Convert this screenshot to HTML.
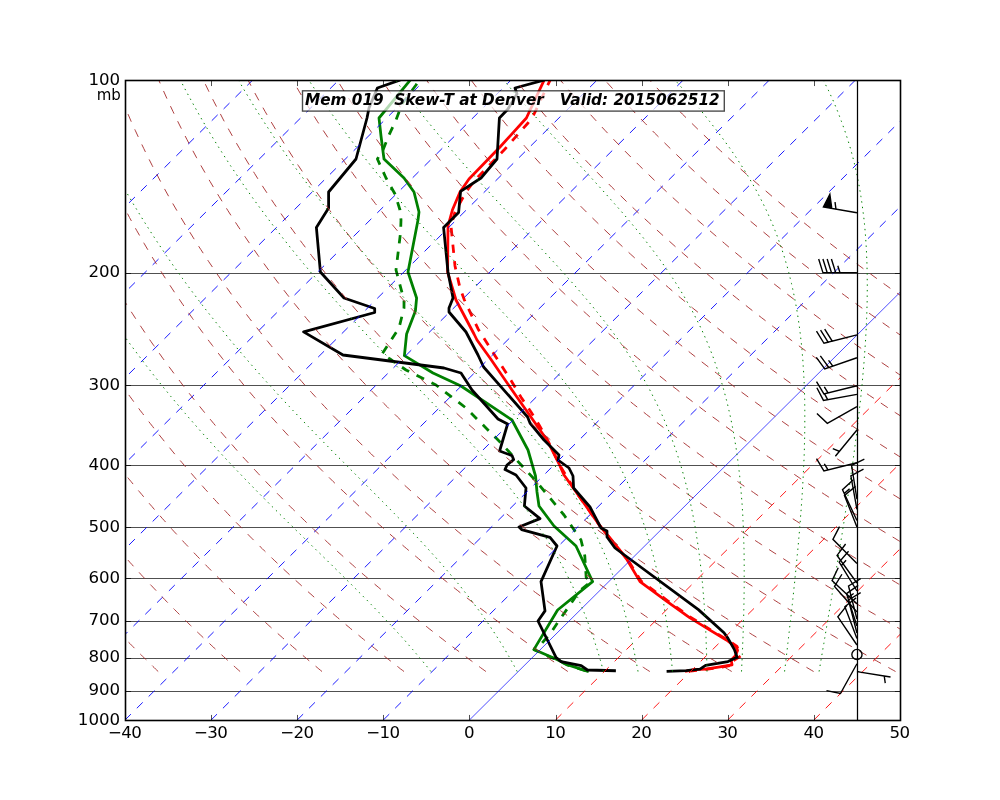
<!DOCTYPE html>
<html lang="en"><head><meta charset="utf-8"><title>Mem 019 Skew-T at Denver</title>
<style>html,body{margin:0;padding:0;background:#fff}body{width:1000px;height:800px;overflow:hidden}svg{display:block}</style>
</head><body>
<svg width="1000" height="800" viewBox="0 0 1000 800">
<rect width="1000" height="800" fill="#fff"/>
<defs><clipPath id="ax"><rect x="125.0" y="80.0" width="775.5" height="640.5"/></clipPath></defs>
<g clip-path="url(#ax)" fill="none">
<path d="M544.0 80.4L526.4 118.0L500.0 147.0L469.0 179.0L460.0 192.0L452.4 210.0L448.0 226.0L447.6 272.0L456.0 300.0L474.0 334.0L477.0 340.0L490.0 358.0L512.0 390.0L547.0 440.0L560.0 466.0L564.0 475.0L574.0 489.0L600.0 526.0L618.0 548.0L627.2 560.0L640.0 581.6L667.2 601.6L689.6 617.6L710.4 630.4L726.4 640.0L736.0 647.2L737.6 650.4L735.2 656.0L731.2 660.0L732.0 664.8L720.0 666.9L705.6 669.1L694.4 669.6L686.4 671.2" stroke="#ff0000" stroke-width="2.78" stroke-linejoin="round" stroke-linecap="square"/>
<path d="M410.0 80.4L379.0 118.0L381.0 136.0L384.0 159.0L404.0 178.0L414.0 192.0L419.0 212.0L418.0 220.0L408.0 272.0L416.6 298.0L415.4 311.0L406.6 334.0L404.4 355.6L433.0 373.0L461.0 386.0L512.0 420.0L528.0 450.0L535.5 476.0L537.0 492.0L539.0 506.0L554.0 526.0L576.0 546.0L592.6 581.6L557.6 610.0L534.0 649.4L555.9 659.0L567.2 664.6L587.4 671.2" stroke="#008000" stroke-width="2.78" stroke-linejoin="round" stroke-linecap="square"/>
<path d="M550.0 80.4L533.6 115.0L528.0 123.0L505.0 149.0L475.0 180.0L466.0 192.0L455.0 212.0L451.0 226.0L455.0 266.0L460.0 288.0L464.4 300.0L478.2 329.2L495.2 356.0L511.5 381.2L521.2 397.5L531.0 412.0L539.1 425.0L547.5 440.0L560.0 465.5L574.0 489.0L600.0 526.0L618.0 548.0L628.0 560.0L641.0 581.0L668.0 601.0L690.0 617.0L711.0 630.0L727.0 639.5L737.0 646.5L740.8 656.0L733.0 661.0L733.5 665.0L720.0 667.5L705.0 669.5L690.0 671.0" stroke="#ff0000" stroke-width="2.78" stroke-linejoin="round" stroke-linecap="butt" stroke-dasharray="8.33 8.33" stroke-dashoffset="3.00"/>
<path d="M419.0 80.4L416.0 85.0L402.0 104.0L396.0 120.0L389.0 135.0L383.0 150.0L377.4 159.0L386.0 178.0L395.0 194.0L400.0 210.0L401.0 220.0L400.6 232.0L396.0 270.0L404.0 300.0L404.0 308.0L399.0 328.0L382.0 354.0L390.0 359.0L406.0 370.0L436.0 385.0L466.0 408.0L500.0 442.0L536.0 481.0L564.0 515.0L581.0 540.0L584.8 555.8L586.2 577.6L591.0 581.6L579.5 590.8L570.8 603.9L560.2 618.8L551.5 631.9L537.5 648.5L534.0 649.8L555.9 659.4L567.2 665.0L587.4 671.4" stroke="#008000" stroke-width="2.78" stroke-linejoin="round" stroke-linecap="butt" stroke-dasharray="8.33 8.33" stroke-dashoffset="12.67"/>
<path d="M543.0 80.4L515.0 88.0L517.0 94.0L508.0 109.0L499.4 118.0L497.0 159.0L481.0 178.0L460.6 191.4L458.6 212.4L443.6 227.6L448.0 272.0L453.0 298.0L449.0 308.0L449.0 312.0L466.0 332.0L478.0 355.0L483.6 367.0L527.6 417.0L530.0 423.0L544.0 440.0L559.0 455.0L558.0 460.0L569.0 468.0L573.0 476.0L573.6 488.0L590.0 507.0L601.0 528.0L607.0 531.0L607.0 537.0L615.0 548.0L631.2 560.0L698.4 609.6L724.0 632.8L728.0 638.4L734.4 649.6L737.1 657.3L728.0 661.6L705.6 665.3L700.0 669.1L686.4 670.7L668.0 671.4" stroke="#000" stroke-width="2.78" stroke-linejoin="round" stroke-linecap="square"/>
<path d="M399.0 80.4L377.4 88.0L369.0 108.0L367.0 118.0L356.0 159.0L328.6 192.0L328.6 208.0L316.4 227.6L320.4 272.0L344.0 298.0L374.7 308.5L374.7 312.5L303.6 331.9L343.0 355.0L444.0 368.0L461.0 373.0L472.0 390.0L498.0 419.0L507.6 424.0L499.6 451.0L512.0 455.6L513.6 459.6L507.0 465.0L505.0 469.6L516.0 475.0L526.0 488.0L524.4 506.0L540.0 518.6L519.0 527.0L521.6 529.6L550.0 537.4L557.0 546.0L541.0 581.6L545.0 610.9L538.0 621.0L555.9 657.2L561.1 661.6L581.2 665.6L587.4 670.0L614.5 670.7" stroke="#000" stroke-width="2.78" stroke-linejoin="round" stroke-linecap="square"/>
<path d="M125.0 720.50L901.0 720.50" stroke="#000" stroke-width="0.69"/>
<path d="M125.0 691.50L901.0 691.50" stroke="#000" stroke-width="0.69"/>
<path d="M125.0 658.50L901.0 658.50" stroke="#000" stroke-width="0.69"/>
<path d="M125.0 621.50L901.0 621.50" stroke="#000" stroke-width="0.69"/>
<path d="M125.0 578.50L901.0 578.50" stroke="#000" stroke-width="0.69"/>
<path d="M125.0 527.50L901.0 527.50" stroke="#000" stroke-width="0.69"/>
<path d="M125.0 465.50L901.0 465.50" stroke="#000" stroke-width="0.69"/>
<path d="M125.0 385.50L901.0 385.50" stroke="#000" stroke-width="0.69"/>
<path d="M125.0 273.50L901.0 273.50" stroke="#000" stroke-width="0.69"/>
<path d="M125.0 80.50L901.0 80.50" stroke="#000" stroke-width="0.69"/>
<path d="M-1.00 332.00L252.74 80.00" stroke="#0000ff" stroke-width="0.90" stroke-dasharray="8.33 8.33"/>
<path d="M-1.00 417.53L338.85 80.00" stroke="#0000ff" stroke-width="0.90" stroke-dasharray="8.33 8.33"/>
<path d="M-1.00 503.05L424.96 80.00" stroke="#0000ff" stroke-width="0.90" stroke-dasharray="8.33 8.33"/>
<path d="M-1.00 588.57L511.07 80.00" stroke="#0000ff" stroke-width="0.90" stroke-dasharray="8.33 8.33"/>
<path d="M-1.00 674.09L597.18 80.00" stroke="#0000ff" stroke-width="0.90" stroke-dasharray="8.33 8.33"/>
<path d="M38.89 720.00L683.29 80.00" stroke="#0000ff" stroke-width="0.90" stroke-dasharray="8.33 8.33"/>
<path d="M125.00 720.00L769.40 80.00" stroke="#0000ff" stroke-width="0.90" stroke-dasharray="8.33 8.33"/>
<path d="M211.11 720.00L855.52 80.00" stroke="#0000ff" stroke-width="0.90" stroke-dasharray="8.33 8.33"/>
<path d="M297.22 720.00L941.63 80.00" stroke="#0000ff" stroke-width="0.90" stroke-dasharray="8.33 8.33"/>
<path d="M383.33 720.00L1027.74 80.00" stroke="#0000ff" stroke-width="0.90" stroke-dasharray="8.33 8.33"/>
<path d="M469.44 720.00L1113.85 80.00" stroke="#0000ff" stroke-width="0.70"/>
<path d="M555.56 720.00L1199.96 80.00" stroke="#ff0000" stroke-width="0.90" stroke-dasharray="8.33 8.33"/>
<path d="M641.67 720.00L1286.07 80.00" stroke="#ff0000" stroke-width="0.90" stroke-dasharray="8.33 8.33"/>
<path d="M727.78 720.00L1372.18 80.00" stroke="#ff0000" stroke-width="0.90" stroke-dasharray="8.33 8.33"/>
<path d="M813.89 720.00L1458.29 80.00" stroke="#ff0000" stroke-width="0.90" stroke-dasharray="8.33 8.33"/>
<path d="M158.2 671.5L156.8 670.2L155.4 668.9L154.1 667.5L152.7 666.2L151.3 664.8L149.9 663.5L148.5 662.1L147.1 660.7L145.7 659.4L144.3 658.0L142.9 656.6L141.5 655.2L140.0 653.8L138.6 652.4L137.2 650.9L135.8 649.5L134.4 648.1L132.9 646.6L131.5 645.2L130.1 643.7L128.6 642.3L127.2 640.8L125.7 639.3L124.3 637.8L122.8 636.3L121.4 634.8L119.9 633.3L118.5 631.8L117.0 630.2L115.5 628.7L114.1 627.1L112.6 625.6L111.1 624.0L109.6 622.4L108.1 620.9L106.7 619.3L105.2 617.7L103.7 616.1L102.2 614.4L100.7 612.8L99.2 611.2L97.6 609.5L96.1 607.9L94.6 606.2L93.1 604.5L91.6 602.8L90.0 601.1L88.5 599.4L87.0 597.7L85.4 596.0L83.9 594.2L82.3 592.5L80.8 590.7L79.2 588.9L77.7 587.1L76.1 585.3L74.6 583.5L73.0 581.7L71.4 579.9L69.8 578.0L68.2 576.2L66.7 574.3L65.1 572.4L63.5 570.5L61.9 568.6L60.3 566.7L58.7 564.7L57.1 562.8L55.4 560.8L53.8 558.8L52.2 556.8L50.6 554.8L48.9 552.8L47.3 550.8L45.7 548.7L44.0 546.7L42.4 544.6L40.7 542.5L39.1 540.4L37.4 538.2L35.7 536.1L34.1 533.9L32.4 531.8L30.7 529.6L29.0 527.3L27.3 525.1L25.7 522.9L24.0 520.6L22.3 518.3L20.6 516.0L18.8 513.7L17.1 511.3L15.4 509.0L13.7 506.6L11.9 504.2L10.2 501.7L8.5 499.3L6.7 496.8L5.0 494.3L3.2 491.8L1.5 489.3L-0.3 486.7L-2.1 484.1L-3.8 481.5L-5.6 478.9L-7.4 476.2L-9.2 473.5L-11.0 470.8L-12.8 468.1L-14.6 465.3L-16.4 462.5L-18.2 459.7L-20.0 456.9L-21.8 454.0L-23.7 451.1L-25.5 448.1L-27.3 445.1L-29.2 442.1L-31.0 439.1L-32.9 436.0L-34.7 432.9L-36.6 429.8L-38.4 426.6L-40.3 423.4L-42.2 420.1L-44.1 416.9L-46.0 413.5L-47.8 410.2L-49.7 406.7L-51.6 403.3L-53.5 399.8L-55.4 396.3L-57.4 392.7L-59.3 389.0L-61.2 385.4L-63.1 381.6L-65.0 377.8L-67.0 374.0L-68.9 370.1L-70.8 366.2L-72.8 362.2L-74.7 358.1L-76.7 354.0L-78.6 349.8L-80.6 345.6L-82.6 341.3L-84.5 336.9L-86.5 332.4L-88.4 327.9L-90.4 323.3L-92.4 318.7L-94.3 313.9L-96.3 309.1L-98.3 304.2L-100.2 299.2L-102.2 294.1L-104.2 288.9L-106.1 283.6L-108.1 278.2L-110.1 272.7L-112.0 267.0L-114.0 261.3L-115.9 255.5L-117.8 249.5L-119.8 243.4L-121.7 237.1L-123.6 230.7L-125.5 224.2L-127.4 217.5L-129.2 210.6L-131.1 203.6L-132.9 196.4L-134.7 189.0L-136.5 181.4L-138.3 173.5L-140.0 165.5L-141.7 157.2L-143.4 148.6L-145.0 139.8L-146.6 130.7L-148.1 121.3L-149.6 111.5L-151.0 101.4L-152.3 90.9L-153.5 80.0L-153.5 80.0" stroke="#a52a2a" stroke-width="0.90" stroke-dasharray="8.33 8.33"/>
<path d="M240.1 671.5L238.6 670.2L237.1 668.9L235.6 667.5L234.1 666.2L232.6 664.8L231.1 663.5L229.6 662.1L228.1 660.7L226.6 659.4L225.1 658.0L223.6 656.6L222.0 655.2L220.5 653.8L219.0 652.4L217.4 650.9L215.9 649.5L214.3 648.1L212.8 646.6L211.2 645.2L209.7 643.7L208.1 642.3L206.6 640.8L205.0 639.3L203.4 637.8L201.9 636.3L200.3 634.8L198.7 633.3L197.1 631.8L195.5 630.2L193.9 628.7L192.3 627.1L190.7 625.6L189.1 624.0L187.5 622.4L185.9 620.9L184.3 619.3L182.7 617.7L181.1 616.1L179.4 614.4L177.8 612.8L176.2 611.2L174.5 609.5L172.9 607.9L171.2 606.2L169.6 604.5L167.9 602.8L166.2 601.1L164.6 599.4L162.9 597.7L161.2 596.0L159.6 594.2L157.9 592.5L156.2 590.7L154.5 588.9L152.8 587.1L151.1 585.3L149.4 583.5L147.7 581.7L146.0 579.9L144.3 578.0L142.5 576.2L140.8 574.3L139.1 572.4L137.3 570.5L135.6 568.6L133.8 566.7L132.1 564.7L130.3 562.8L128.6 560.8L126.8 558.8L125.0 556.8L123.3 554.8L121.5 552.8L119.7 550.8L117.9 548.7L116.1 546.7L114.3 544.6L112.5 542.5L110.7 540.4L108.9 538.2L107.0 536.1L105.2 533.9L103.4 531.8L101.5 529.6L99.7 527.3L97.8 525.1L96.0 522.9L94.1 520.6L92.2 518.3L90.4 516.0L88.5 513.7L86.6 511.3L84.7 509.0L82.8 506.6L80.9 504.2L79.0 501.7L77.1 499.3L75.2 496.8L73.3 494.3L71.3 491.8L69.4 489.3L67.5 486.7L65.5 484.1L63.6 481.5L61.6 478.9L59.6 476.2L57.7 473.5L55.7 470.8L53.7 468.1L51.7 465.3L49.7 462.5L47.7 459.7L45.7 456.9L43.7 454.0L41.7 451.1L39.6 448.1L37.6 445.1L35.6 442.1L33.5 439.1L31.5 436.0L29.4 432.9L27.3 429.8L25.3 426.6L23.2 423.4L21.1 420.1L19.0 416.9L16.9 413.5L14.8 410.2L12.7 406.7L10.6 403.3L8.4 399.8L6.3 396.3L4.2 392.7L2.0 389.0L-0.1 385.4L-2.3 381.6L-4.5 377.8L-6.6 374.0L-8.8 370.1L-11.0 366.2L-13.2 362.2L-15.4 358.1L-17.6 354.0L-19.8 349.8L-22.0 345.6L-24.2 341.3L-26.4 336.9L-28.7 332.4L-30.9 327.9L-33.1 323.3L-35.4 318.7L-37.6 313.9L-39.9 309.1L-42.1 304.2L-44.4 299.2L-46.6 294.1L-48.9 288.9L-51.1 283.6L-53.4 278.2L-55.7 272.7L-57.9 267.0L-60.2 261.3L-62.5 255.5L-64.7 249.5L-67.0 243.4L-69.3 237.1L-71.5 230.7L-73.8 224.2L-76.0 217.5L-78.2 210.6L-80.4 203.6L-82.7 196.4L-84.8 189.0L-87.0 181.4L-89.2 173.5L-91.3 165.5L-93.4 157.2L-95.5 148.6L-97.6 139.8L-99.6 130.7L-101.6 121.3L-103.5 111.5L-105.4 101.4L-107.2 90.9L-108.9 80.0L-108.9 80.0" stroke="#a52a2a" stroke-width="0.90" stroke-dasharray="8.33 8.33"/>
<path d="M322.0 671.5L320.4 670.2L318.8 668.9L317.2 667.5L315.6 666.2L314.0 664.8L312.4 663.5L310.8 662.1L309.1 660.7L307.5 659.4L305.9 658.0L304.2 656.6L302.6 655.2L300.9 653.8L299.3 652.4L297.6 650.9L296.0 649.5L294.3 648.1L292.6 646.6L291.0 645.2L289.3 643.7L287.6 642.3L285.9 640.8L284.3 639.3L282.6 637.8L280.9 636.3L279.2 634.8L277.5 633.3L275.8 631.8L274.0 630.2L272.3 628.7L270.6 627.1L268.9 625.6L267.2 624.0L265.4 622.4L263.7 620.9L261.9 619.3L260.2 617.7L258.4 616.1L256.7 614.4L254.9 612.8L253.2 611.2L251.4 609.5L249.6 607.9L247.8 606.2L246.0 604.5L244.3 602.8L242.5 601.1L240.7 599.4L238.9 597.7L237.0 596.0L235.2 594.2L233.4 592.5L231.6 590.7L229.8 588.9L227.9 587.1L226.1 585.3L224.2 583.5L222.4 581.7L220.5 579.9L218.7 578.0L216.8 576.2L214.9 574.3L213.1 572.4L211.2 570.5L209.3 568.6L207.4 566.7L205.5 564.7L203.6 562.8L201.7 560.8L199.8 558.8L197.8 556.8L195.9 554.8L194.0 552.8L192.0 550.8L190.1 548.7L188.2 546.7L186.2 544.6L184.2 542.5L182.3 540.4L180.3 538.2L178.3 536.1L176.3 533.9L174.3 531.8L172.3 529.6L170.3 527.3L168.3 525.1L166.3 522.9L164.3 520.6L162.2 518.3L160.2 516.0L158.2 513.7L156.1 511.3L154.0 509.0L152.0 506.6L149.9 504.2L147.8 501.7L145.8 499.3L143.7 496.8L141.6 494.3L139.5 491.8L137.3 489.3L135.2 486.7L133.1 484.1L131.0 481.5L128.8 478.9L126.7 476.2L124.5 473.5L122.3 470.8L120.2 468.1L118.0 465.3L115.8 462.5L113.6 459.7L111.4 456.9L109.2 454.0L107.0 451.1L104.8 448.1L102.5 445.1L100.3 442.1L98.0 439.1L95.8 436.0L93.5 432.9L91.2 429.8L89.0 426.6L86.7 423.4L84.4 420.1L82.1 416.9L79.7 413.5L77.4 410.2L75.1 406.7L72.7 403.3L70.4 399.8L68.0 396.3L65.7 392.7L63.3 389.0L60.9 385.4L58.5 381.6L56.1 377.8L53.7 374.0L51.3 370.1L48.9 366.2L46.4 362.2L44.0 358.1L41.6 354.0L39.1 349.8L36.6 345.6L34.1 341.3L31.7 336.9L29.2 332.4L26.7 327.9L24.2 323.3L21.7 318.7L19.1 313.9L16.6 309.1L14.1 304.2L11.5 299.2L9.0 294.1L6.4 288.9L3.8 283.6L1.3 278.2L-1.3 272.7L-3.9 267.0L-6.5 261.3L-9.0 255.5L-11.6 249.5L-14.2 243.4L-16.8 237.1L-19.4 230.7L-22.0 224.2L-24.6 217.5L-27.2 210.6L-29.8 203.6L-32.4 196.4L-34.9 189.0L-37.5 181.4L-40.1 173.5L-42.6 165.5L-45.1 157.2L-47.7 148.6L-50.1 139.8L-52.6 130.7L-55.0 121.3L-57.4 111.5L-59.8 101.4L-62.1 90.9L-64.3 80.0L-64.3 80.0" stroke="#a52a2a" stroke-width="0.90" stroke-dasharray="8.33 8.33"/>
<path d="M404.0 671.5L402.3 670.2L400.5 668.9L398.8 667.5L397.1 666.2L395.4 664.8L393.6 663.5L391.9 662.1L390.2 660.7L388.4 659.4L386.7 658.0L384.9 656.6L383.2 655.2L381.4 653.8L379.6 652.4L377.8 650.9L376.1 649.5L374.3 648.1L372.5 646.6L370.7 645.2L368.9 643.7L367.1 642.3L365.3 640.8L363.5 639.3L361.7 637.8L359.9 636.3L358.1 634.8L356.2 633.3L354.4 631.8L352.6 630.2L350.7 628.7L348.9 627.1L347.0 625.6L345.2 624.0L343.3 622.4L341.5 620.9L339.6 619.3L337.7 617.7L335.8 616.1L333.9 614.4L332.0 612.8L330.2 611.2L328.3 609.5L326.3 607.9L324.4 606.2L322.5 604.5L320.6 602.8L318.7 601.1L316.7 599.4L314.8 597.7L312.9 596.0L310.9 594.2L308.9 592.5L307.0 590.7L305.0 588.9L303.0 587.1L301.1 585.3L299.1 583.5L297.1 581.7L295.1 579.9L293.1 578.0L291.1 576.2L289.1 574.3L287.1 572.4L285.0 570.5L283.0 568.6L281.0 566.7L278.9 564.7L276.9 562.8L274.8 560.8L272.7 558.8L270.7 556.8L268.6 554.8L266.5 552.8L264.4 550.8L262.3 548.7L260.2 546.7L258.1 544.6L256.0 542.5L253.9 540.4L251.7 538.2L249.6 536.1L247.5 533.9L245.3 531.8L243.1 529.6L241.0 527.3L238.8 525.1L236.6 522.9L234.4 520.6L232.2 518.3L230.0 516.0L227.8 513.7L225.6 511.3L223.4 509.0L221.1 506.6L218.9 504.2L216.6 501.7L214.4 499.3L212.1 496.8L209.8 494.3L207.6 491.8L205.3 489.3L203.0 486.7L200.7 484.1L198.4 481.5L196.0 478.9L193.7 476.2L191.4 473.5L189.0 470.8L186.6 468.1L184.3 465.3L181.9 462.5L179.5 459.7L177.1 456.9L174.7 454.0L172.3 451.1L169.9 448.1L167.4 445.1L165.0 442.1L162.6 439.1L160.1 436.0L157.6 432.9L155.1 429.8L152.7 426.6L150.2 423.4L147.6 420.1L145.1 416.9L142.6 413.5L140.0 410.2L137.5 406.7L134.9 403.3L132.4 399.8L129.8 396.3L127.2 392.7L124.6 389.0L122.0 385.4L119.3 381.6L116.7 377.8L114.1 374.0L111.4 370.1L108.7 366.2L106.1 362.2L103.4 358.1L100.7 354.0L98.0 349.8L95.2 345.6L92.5 341.3L89.8 336.9L87.0 332.4L84.2 327.9L81.5 323.3L78.7 318.7L75.9 313.9L73.0 309.1L70.2 304.2L67.4 299.2L64.6 294.1L61.7 288.9L58.8 283.6L56.0 278.2L53.1 272.7L50.2 267.0L47.3 261.3L44.4 255.5L41.5 249.5L38.5 243.4L35.6 237.1L32.7 230.7L29.7 224.2L26.8 217.5L23.8 210.6L20.9 203.6L17.9 196.4L14.9 189.0L12.0 181.4L9.0 173.5L6.1 165.5L3.1 157.2L0.2 148.6L-2.7 139.8L-5.6 130.7L-8.5 121.3L-11.3 111.5L-14.2 101.4L-17.0 90.9L-19.7 80.0L-19.7 80.0" stroke="#a52a2a" stroke-width="0.90" stroke-dasharray="8.33 8.33"/>
<path d="M485.9 671.5L484.1 670.2L482.3 668.9L480.4 667.5L478.6 666.2L476.7 664.8L474.9 663.5L473.0 662.1L471.2 660.7L469.3 659.4L467.5 658.0L465.6 656.6L463.7 655.2L461.8 653.8L459.9 652.4L458.1 650.9L456.2 649.5L454.3 648.1L452.4 646.6L450.5 645.2L448.5 643.7L446.6 642.3L444.7 640.8L442.8 639.3L440.8 637.8L438.9 636.3L437.0 634.8L435.0 633.3L433.1 631.8L431.1 630.2L429.1 628.7L427.2 627.1L425.2 625.6L423.2 624.0L421.2 622.4L419.2 620.9L417.2 619.3L415.2 617.7L413.2 616.1L411.2 614.4L409.2 612.8L407.2 611.2L405.1 609.5L403.1 607.9L401.0 606.2L399.0 604.5L396.9 602.8L394.9 601.1L392.8 599.4L390.7 597.7L388.7 596.0L386.6 594.2L384.5 592.5L382.4 590.7L380.3 588.9L378.2 587.1L376.0 585.3L373.9 583.5L371.8 581.7L369.7 579.9L367.5 578.0L365.4 576.2L363.2 574.3L361.0 572.4L358.9 570.5L356.7 568.6L354.5 566.7L352.3 564.7L350.1 562.8L347.9 560.8L345.7 558.8L343.5 556.8L341.3 554.8L339.0 552.8L336.8 550.8L334.5 548.7L332.3 546.7L330.0 544.6L327.7 542.5L325.5 540.4L323.2 538.2L320.9 536.1L318.6 533.9L316.3 531.8L313.9 529.6L311.6 527.3L309.3 525.1L306.9 522.9L304.6 520.6L302.2 518.3L299.9 516.0L297.5 513.7L295.1 511.3L292.7 509.0L290.3 506.6L287.9 504.2L285.5 501.7L283.0 499.3L280.6 496.8L278.1 494.3L275.7 491.8L273.2 489.3L270.7 486.7L268.2 484.1L265.7 481.5L263.2 478.9L260.7 476.2L258.2 473.5L255.7 470.8L253.1 468.1L250.6 465.3L248.0 462.5L245.4 459.7L242.8 456.9L240.2 454.0L237.6 451.1L235.0 448.1L232.4 445.1L229.7 442.1L227.1 439.1L224.4 436.0L221.7 432.9L219.0 429.8L216.3 426.6L213.6 423.4L210.9 420.1L208.2 416.9L205.4 413.5L202.7 410.2L199.9 406.7L197.1 403.3L194.3 399.8L191.5 396.3L188.7 392.7L185.9 389.0L183.0 385.4L180.2 381.6L177.3 377.8L174.4 374.0L171.5 370.1L168.6 366.2L165.7 362.2L162.7 358.1L159.8 354.0L156.8 349.8L153.8 345.6L150.8 341.3L147.8 336.9L144.8 332.4L141.8 327.9L138.7 323.3L135.7 318.7L132.6 313.9L129.5 309.1L126.4 304.2L123.3 299.2L120.1 294.1L117.0 288.9L113.8 283.6L110.6 278.2L107.5 272.7L104.3 267.0L101.0 261.3L97.8 255.5L94.6 249.5L91.3 243.4L88.0 237.1L84.7 230.7L81.5 224.2L78.2 217.5L74.8 210.6L71.5 203.6L68.2 196.4L64.8 189.0L61.5 181.4L58.1 173.5L54.8 165.5L51.4 157.2L48.1 148.6L44.7 139.8L41.4 130.7L38.1 121.3L34.7 111.5L31.4 101.4L28.2 90.9L24.9 80.0L24.9 80.0" stroke="#a52a2a" stroke-width="0.90" stroke-dasharray="8.33 8.33"/>
<path d="M567.8 671.5L565.9 670.2L564.0 668.9L562.0 667.5L560.1 666.2L558.1 664.8L556.1 663.5L554.2 662.1L552.2 660.7L550.2 659.4L548.3 658.0L546.3 656.6L544.3 655.2L542.3 653.8L540.3 652.4L538.3 650.9L536.3 649.5L534.2 648.1L532.2 646.6L530.2 645.2L528.2 643.7L526.1 642.3L524.1 640.8L522.0 639.3L520.0 637.8L517.9 636.3L515.8 634.8L513.8 633.3L511.7 631.8L509.6 630.2L507.5 628.7L505.4 627.1L503.3 625.6L501.2 624.0L499.1 622.4L497.0 620.9L494.9 619.3L492.7 617.7L490.6 616.1L488.5 614.4L486.3 612.8L484.2 611.2L482.0 609.5L479.8 607.9L477.6 606.2L475.5 604.5L473.3 602.8L471.1 601.1L468.9 599.4L466.7 597.7L464.5 596.0L462.2 594.2L460.0 592.5L457.8 590.7L455.5 588.9L453.3 587.1L451.0 585.3L448.8 583.5L446.5 581.7L444.2 579.9L441.9 578.0L439.6 576.2L437.3 574.3L435.0 572.4L432.7 570.5L430.4 568.6L428.1 566.7L425.7 564.7L423.4 562.8L421.0 560.8L418.7 558.8L416.3 556.8L413.9 554.8L411.5 552.8L409.2 550.8L406.7 548.7L404.3 546.7L401.9 544.6L399.5 542.5L397.1 540.4L394.6 538.2L392.2 536.1L389.7 533.9L387.2 531.8L384.8 529.6L382.3 527.3L379.8 525.1L377.3 522.9L374.7 520.6L372.2 518.3L369.7 516.0L367.1 513.7L364.6 511.3L362.0 509.0L359.4 506.6L356.9 504.2L354.3 501.7L351.7 499.3L349.0 496.8L346.4 494.3L343.8 491.8L341.1 489.3L338.5 486.7L335.8 484.1L333.1 481.5L330.5 478.9L327.8 476.2L325.0 473.5L322.3 470.8L319.6 468.1L316.8 465.3L314.1 462.5L311.3 459.7L308.5 456.9L305.7 454.0L302.9 451.1L300.1 448.1L297.3 445.1L294.5 442.1L291.6 439.1L288.7 436.0L285.8 432.9L283.0 429.8L280.0 426.6L277.1 423.4L274.2 420.1L271.2 416.9L268.3 413.5L265.3 410.2L262.3 406.7L259.3 403.3L256.3 399.8L253.3 396.3L250.2 392.7L247.2 389.0L244.1 385.4L241.0 381.6L237.9 377.8L234.8 374.0L231.6 370.1L228.5 366.2L225.3 362.2L222.1 358.1L218.9 354.0L215.7 349.8L212.5 345.6L209.2 341.3L205.9 336.9L202.6 332.4L199.3 327.9L196.0 323.3L192.7 318.7L189.3 313.9L186.0 309.1L182.6 304.2L179.2 299.2L175.7 294.1L172.3 288.9L168.8 283.6L165.3 278.2L161.8 272.7L158.3 267.0L154.8 261.3L151.2 255.5L147.7 249.5L144.1 243.4L140.5 237.1L136.8 230.7L133.2 224.2L129.5 217.5L125.9 210.6L122.2 203.6L118.5 196.4L114.7 189.0L111.0 181.4L107.3 173.5L103.5 165.5L99.7 157.2L96.0 148.6L92.2 139.8L88.4 130.7L84.6 121.3L80.8 111.5L77.0 101.4L73.3 90.9L69.5 80.0L69.5 80.0" stroke="#a52a2a" stroke-width="0.90" stroke-dasharray="8.33 8.33"/>
<path d="M649.8 671.5L647.7 670.2L645.7 668.9L643.6 667.5L641.5 666.2L639.5 664.8L637.4 663.5L635.3 662.1L633.2 660.7L631.1 659.4L629.0 658.0L626.9 656.6L624.8 655.2L622.7 653.8L620.6 652.4L618.5 650.9L616.4 649.5L614.2 648.1L612.1 646.6L609.9 645.2L607.8 643.7L605.6 642.3L603.5 640.8L601.3 639.3L599.1 637.8L596.9 636.3L594.7 634.8L592.5 633.3L590.3 631.8L588.1 630.2L585.9 628.7L583.7 627.1L581.5 625.6L579.2 624.0L577.0 622.4L574.8 620.9L572.5 619.3L570.3 617.7L568.0 616.1L565.7 614.4L563.4 612.8L561.2 611.2L558.9 609.5L556.6 607.9L554.3 606.2L551.9 604.5L549.6 602.8L547.3 601.1L545.0 599.4L542.6 597.7L540.3 596.0L537.9 594.2L535.5 592.5L533.2 590.7L530.8 588.9L528.4 587.1L526.0 585.3L523.6 583.5L521.2 581.7L518.8 579.9L516.4 578.0L513.9 576.2L511.5 574.3L509.0 572.4L506.6 570.5L504.1 568.6L501.6 566.7L499.1 564.7L496.7 562.8L494.2 560.8L491.6 558.8L489.1 556.8L486.6 554.8L484.1 552.8L481.5 550.8L479.0 548.7L476.4 546.7L473.8 544.6L471.2 542.5L468.7 540.4L466.1 538.2L463.4 536.1L460.8 533.9L458.2 531.8L455.6 529.6L452.9 527.3L450.2 525.1L447.6 522.9L444.9 520.6L442.2 518.3L439.5 516.0L436.8 513.7L434.1 511.3L431.3 509.0L428.6 506.6L425.8 504.2L423.1 501.7L420.3 499.3L417.5 496.8L414.7 494.3L411.9 491.8L409.1 489.3L406.2 486.7L403.4 484.1L400.5 481.5L397.7 478.9L394.8 476.2L391.9 473.5L389.0 470.8L386.1 468.1L383.1 465.3L380.2 462.5L377.2 459.7L374.2 456.9L371.3 454.0L368.3 451.1L365.2 448.1L362.2 445.1L359.2 442.1L356.1 439.1L353.0 436.0L350.0 432.9L346.9 429.8L343.7 426.6L340.6 423.4L337.5 420.1L334.3 416.9L331.1 413.5L327.9 410.2L324.7 406.7L321.5 403.3L318.3 399.8L315.0 396.3L311.7 392.7L308.4 389.0L305.1 385.4L301.8 381.6L298.5 377.8L295.1 374.0L291.7 370.1L288.3 366.2L284.9 362.2L281.5 358.1L278.0 354.0L274.6 349.8L271.1 345.6L267.6 341.3L264.0 336.9L260.5 332.4L256.9 327.9L253.3 323.3L249.7 318.7L246.1 313.9L242.4 309.1L238.7 304.2L235.0 299.2L231.3 294.1L227.6 288.9L223.8 283.6L220.0 278.2L216.2 272.7L212.4 267.0L208.5 261.3L204.7 255.5L200.8 249.5L196.8 243.4L192.9 237.1L188.9 230.7L184.9 224.2L180.9 217.5L176.9 210.6L172.8 203.6L168.7 196.4L164.6 189.0L160.5 181.4L156.4 173.5L152.2 165.5L148.0 157.2L143.8 148.6L139.6 139.8L135.4 130.7L131.1 121.3L126.9 111.5L122.6 101.4L118.4 90.9L114.1 80.0L114.1 80.0" stroke="#a52a2a" stroke-width="0.90" stroke-dasharray="8.33 8.33"/>
<path d="M731.7 671.5L729.5 670.2L727.4 668.9L725.2 667.5L723.0 666.2L720.8 664.8L718.6 663.5L716.5 662.1L714.3 660.7L712.1 659.4L709.8 658.0L707.6 656.6L705.4 655.2L703.2 653.8L700.9 652.4L698.7 650.9L696.5 649.5L694.2 648.1L691.9 646.6L689.7 645.2L687.4 643.7L685.1 642.3L682.8 640.8L680.5 639.3L678.2 637.8L675.9 636.3L673.6 634.8L671.3 633.3L669.0 631.8L666.7 630.2L664.3 628.7L662.0 627.1L659.6 625.6L657.3 624.0L654.9 622.4L652.5 620.9L650.2 619.3L647.8 617.7L645.4 616.1L643.0 614.4L640.6 612.8L638.2 611.2L635.7 609.5L633.3 607.9L630.9 606.2L628.4 604.5L626.0 602.8L623.5 601.1L621.0 599.4L618.6 597.7L616.1 596.0L613.6 594.2L611.1 592.5L608.6 590.7L606.1 588.9L603.5 587.1L601.0 585.3L598.5 583.5L595.9 581.7L593.3 579.9L590.8 578.0L588.2 576.2L585.6 574.3L583.0 572.4L580.4 570.5L577.8 568.6L575.2 566.7L572.6 564.7L569.9 562.8L567.3 560.8L564.6 558.8L561.9 556.8L559.3 554.8L556.6 552.8L553.9 550.8L551.2 548.7L548.5 546.7L545.7 544.6L543.0 542.5L540.3 540.4L537.5 538.2L534.7 536.1L532.0 533.9L529.2 531.8L526.4 529.6L523.6 527.3L520.7 525.1L517.9 522.9L515.1 520.6L512.2 518.3L509.3 516.0L506.5 513.7L503.6 511.3L500.7 509.0L497.8 506.6L494.8 504.2L491.9 501.7L488.9 499.3L486.0 496.8L483.0 494.3L480.0 491.8L477.0 489.3L474.0 486.7L471.0 484.1L467.9 481.5L464.9 478.9L461.8 476.2L458.7 473.5L455.6 470.8L452.5 468.1L449.4 465.3L446.3 462.5L443.1 459.7L440.0 456.9L436.8 454.0L433.6 451.1L430.4 448.1L427.1 445.1L423.9 442.1L420.6 439.1L417.4 436.0L414.1 432.9L410.8 429.8L407.4 426.6L404.1 423.4L400.7 420.1L397.4 416.9L394.0 413.5L390.6 410.2L387.1 406.7L383.7 403.3L380.2 399.8L376.8 396.3L373.3 392.7L369.7 389.0L366.2 385.4L362.6 381.6L359.1 377.8L355.5 374.0L351.8 370.1L348.2 366.2L344.5 362.2L340.8 358.1L337.1 354.0L333.4 349.8L329.7 345.6L325.9 341.3L322.1 336.9L318.3 332.4L314.5 327.9L310.6 323.3L306.7 318.7L302.8 313.9L298.9 309.1L294.9 304.2L290.9 299.2L286.9 294.1L282.9 288.9L278.8 283.6L274.7 278.2L270.6 272.7L266.4 267.0L262.3 261.3L258.1 255.5L253.9 249.5L249.6 243.4L245.3 237.1L241.0 230.7L236.7 224.2L232.3 217.5L227.9 210.6L223.5 203.6L219.0 196.4L214.5 189.0L210.0 181.4L205.5 173.5L200.9 165.5L196.3 157.2L191.7 148.6L187.1 139.8L182.4 130.7L177.7 121.3L173.0 111.5L168.2 101.4L163.5 90.9L158.7 80.0L158.7 80.0" stroke="#a52a2a" stroke-width="0.90" stroke-dasharray="8.33 8.33"/>
<path d="M813.6 671.5L811.3 670.2L809.1 668.9L806.8 667.5L804.5 666.2L802.2 664.8L799.9 663.5L797.6 662.1L795.3 660.7L793.0 659.4L790.6 658.0L788.3 656.6L786.0 655.2L783.6 653.8L781.3 652.4L778.9 650.9L776.5 649.5L774.2 648.1L771.8 646.6L769.4 645.2L767.0 643.7L764.6 642.3L762.2 640.8L759.8 639.3L757.4 637.8L755.0 636.3L752.5 634.8L750.1 633.3L747.6 631.8L745.2 630.2L742.7 628.7L740.3 627.1L737.8 625.6L735.3 624.0L732.8 622.4L730.3 620.9L727.8 619.3L725.3 617.7L722.8 616.1L720.2 614.4L717.7 612.8L715.2 611.2L712.6 609.5L710.0 607.9L707.5 606.2L704.9 604.5L702.3 602.8L699.7 601.1L697.1 599.4L694.5 597.7L691.9 596.0L689.3 594.2L686.6 592.5L684.0 590.7L681.3 588.9L678.7 587.1L676.0 585.3L673.3 583.5L670.6 581.7L667.9 579.9L665.2 578.0L662.5 576.2L659.8 574.3L657.0 572.4L654.3 570.5L651.5 568.6L648.7 566.7L646.0 564.7L643.2 562.8L640.4 560.8L637.6 558.8L634.8 556.8L631.9 554.8L629.1 552.8L626.3 550.8L623.4 548.7L620.5 546.7L617.6 544.6L614.8 542.5L611.9 540.4L608.9 538.2L606.0 536.1L603.1 533.9L600.1 531.8L597.2 529.6L594.2 527.3L591.2 525.1L588.2 522.9L585.2 520.6L582.2 518.3L579.2 516.0L576.1 513.7L573.1 511.3L570.0 509.0L566.9 506.6L563.8 504.2L560.7 501.7L557.6 499.3L554.4 496.8L551.3 494.3L548.1 491.8L544.9 489.3L541.8 486.7L538.6 484.1L535.3 481.5L532.1 478.9L528.8 476.2L525.6 473.5L522.3 470.8L519.0 468.1L515.7 465.3L512.4 462.5L509.0 459.7L505.7 456.9L502.3 454.0L498.9 451.1L495.5 448.1L492.1 445.1L488.6 442.1L485.2 439.1L481.7 436.0L478.2 432.9L474.7 429.8L471.1 426.6L467.6 423.4L464.0 420.1L460.4 416.9L456.8 413.5L453.2 410.2L449.6 406.7L445.9 403.3L442.2 399.8L438.5 396.3L434.8 392.7L431.0 389.0L427.2 385.4L423.5 381.6L419.6 377.8L415.8 374.0L411.9 370.1L408.1 366.2L404.1 362.2L400.2 358.1L396.3 354.0L392.3 349.8L388.3 345.6L384.3 341.3L380.2 336.9L376.1 332.4L372.0 327.9L367.9 323.3L363.7 318.7L359.5 313.9L355.3 309.1L351.1 304.2L346.8 299.2L342.5 294.1L338.2 288.9L333.8 283.6L329.4 278.2L325.0 272.7L320.5 267.0L316.0 261.3L311.5 255.5L307.0 249.5L302.4 243.4L297.7 237.1L293.1 230.7L288.4 224.2L283.7 217.5L278.9 210.6L274.1 203.6L269.3 196.4L264.4 189.0L259.5 181.4L254.6 173.5L249.6 165.5L244.6 157.2L239.6 148.6L234.5 139.8L229.4 130.7L224.2 121.3L219.1 111.5L213.8 101.4L208.6 90.9L203.3 80.0L203.3 80.0" stroke="#a52a2a" stroke-width="0.90" stroke-dasharray="8.33 8.33"/>
<path d="M895.5 671.5L893.2 670.2L890.8 668.9L888.4 667.5L886.0 666.2L883.6 664.8L881.2 663.5L878.7 662.1L876.3 660.7L873.9 659.4L871.4 658.0L869.0 656.6L866.5 655.2L864.1 653.8L861.6 652.4L859.1 650.9L856.6 649.5L854.2 648.1L851.7 646.6L849.2 645.2L846.6 643.7L844.1 642.3L841.6 640.8L839.1 639.3L836.5 637.8L834.0 636.3L831.4 634.8L828.9 633.3L826.3 631.8L823.7 630.2L821.1 628.7L818.5 627.1L815.9 625.6L813.3 624.0L810.7 622.4L808.1 620.9L805.4 619.3L802.8 617.7L800.2 616.1L797.5 614.4L794.8 612.8L792.2 611.2L789.5 609.5L786.8 607.9L784.1 606.2L781.4 604.5L778.6 602.8L775.9 601.1L773.2 599.4L770.4 597.7L767.7 596.0L764.9 594.2L762.1 592.5L759.4 590.7L756.6 588.9L753.8 587.1L751.0 585.3L748.1 583.5L745.3 581.7L742.5 579.9L739.6 578.0L736.8 576.2L733.9 574.3L731.0 572.4L728.1 570.5L725.2 568.6L722.3 566.7L719.4 564.7L716.5 562.8L713.5 560.8L710.6 558.8L707.6 556.8L704.6 554.8L701.6 552.8L698.6 550.8L695.6 548.7L692.6 546.7L689.6 544.6L686.5 542.5L683.4 540.4L680.4 538.2L677.3 536.1L674.2 533.9L671.1 531.8L668.0 529.6L664.8 527.3L661.7 525.1L658.5 522.9L655.4 520.6L652.2 518.3L649.0 516.0L645.8 513.7L642.5 511.3L639.3 509.0L636.1 506.6L632.8 504.2L629.5 501.7L626.2 499.3L622.9 496.8L619.6 494.3L616.2 491.8L612.9 489.3L609.5 486.7L606.1 484.1L602.7 481.5L599.3 478.9L595.9 476.2L592.4 473.5L589.0 470.8L585.5 468.1L582.0 465.3L578.5 462.5L574.9 459.7L571.4 456.9L567.8 454.0L564.2 451.1L560.6 448.1L557.0 445.1L553.3 442.1L549.7 439.1L546.0 436.0L542.3 432.9L538.6 429.8L534.8 426.6L531.1 423.4L527.3 420.1L523.5 416.9L519.7 413.5L515.8 410.2L512.0 406.7L508.1 403.3L504.2 399.8L500.2 396.3L496.3 392.7L492.3 389.0L488.3 385.4L484.3 381.6L480.2 377.8L476.1 374.0L472.0 370.1L467.9 366.2L463.8 362.2L459.6 358.1L455.4 354.0L451.2 349.8L446.9 345.6L442.6 341.3L438.3 336.9L433.9 332.4L429.6 327.9L425.2 323.3L420.7 318.7L416.3 313.9L411.8 309.1L407.2 304.2L402.7 299.2L398.1 294.1L393.4 288.9L388.8 283.6L384.1 278.2L379.3 272.7L374.6 267.0L369.8 261.3L364.9 255.5L360.1 249.5L355.1 243.4L350.2 237.1L345.2 230.7L340.1 224.2L335.1 217.5L329.9 210.6L324.8 203.6L319.6 196.4L314.3 189.0L309.0 181.4L303.7 173.5L298.3 165.5L292.9 157.2L287.4 148.6L281.9 139.8L276.4 130.7L270.8 121.3L265.1 111.5L259.4 101.4L253.7 90.9L248.0 80.0L248.0 80.0" stroke="#a52a2a" stroke-width="0.90" stroke-dasharray="8.33 8.33"/>
<path d="M977.5 671.5L975.0 670.2L972.5 668.9L970.0 667.5L967.5 666.2L964.9 664.8L962.4 663.5L959.9 662.1L957.3 660.7L954.8 659.4L952.2 658.0L949.7 656.6L947.1 655.2L944.5 653.8L941.9 652.4L939.3 650.9L936.7 649.5L934.1 648.1L931.5 646.6L928.9 645.2L926.3 643.7L923.6 642.3L921.0 640.8L918.3 639.3L915.7 637.8L913.0 636.3L910.3 634.8L907.6 633.3L904.9 631.8L902.2 630.2L899.5 628.7L896.8 627.1L894.1 625.6L891.3 624.0L888.6 622.4L885.8 620.9L883.1 619.3L880.3 617.7L877.5 616.1L874.8 614.4L872.0 612.8L869.2 611.2L866.3 609.5L863.5 607.9L860.7 606.2L857.8 604.5L855.0 602.8L852.1 601.1L849.3 599.4L846.4 597.7L843.5 596.0L840.6 594.2L837.7 592.5L834.8 590.7L831.8 588.9L828.9 587.1L825.9 585.3L823.0 583.5L820.0 581.7L817.0 579.9L814.0 578.0L811.0 576.2L808.0 574.3L805.0 572.4L802.0 570.5L798.9 568.6L795.9 566.7L792.8 564.7L789.7 562.8L786.6 560.8L783.5 558.8L780.4 556.8L777.3 554.8L774.1 552.8L771.0 550.8L767.8 548.7L764.6 546.7L761.5 544.6L758.3 542.5L755.0 540.4L751.8 538.2L748.6 536.1L745.3 533.9L742.1 531.8L738.8 529.6L735.5 527.3L732.2 525.1L728.9 522.9L725.5 520.6L722.2 518.3L718.8 516.0L715.4 513.7L712.0 511.3L708.6 509.0L705.2 506.6L701.8 504.2L698.3 501.7L694.9 499.3L691.4 496.8L687.9 494.3L684.4 491.8L680.8 489.3L677.3 486.7L673.7 484.1L670.1 481.5L666.5 478.9L662.9 476.2L659.3 473.5L655.6 470.8L651.9 468.1L648.3 465.3L644.6 462.5L640.8 459.7L637.1 456.9L633.3 454.0L629.5 451.1L625.7 448.1L621.9 445.1L618.1 442.1L614.2 439.1L610.3 436.0L606.4 432.9L602.5 429.8L598.5 426.6L594.6 423.4L590.6 420.1L586.6 416.9L582.5 413.5L578.5 410.2L574.4 406.7L570.3 403.3L566.1 399.8L562.0 396.3L557.8 392.7L553.6 389.0L549.4 385.4L545.1 381.6L540.8 377.8L536.5 374.0L532.2 370.1L527.8 366.2L523.4 362.2L519.0 358.1L514.5 354.0L510.0 349.8L505.5 345.6L501.0 341.3L496.4 336.9L491.8 332.4L487.1 327.9L482.4 323.3L477.7 318.7L473.0 313.9L468.2 309.1L463.4 304.2L458.5 299.2L453.7 294.1L448.7 288.9L443.8 283.6L438.8 278.2L433.7 272.7L428.6 267.0L423.5 261.3L418.4 255.5L413.1 249.5L407.9 243.4L402.6 237.1L397.3 230.7L391.9 224.2L386.4 217.5L381.0 210.6L375.4 203.6L369.9 196.4L364.2 189.0L358.5 181.4L352.8 173.5L347.0 165.5L341.2 157.2L335.3 148.6L329.4 139.8L323.4 130.7L317.3 121.3L311.2 111.5L305.1 101.4L298.8 90.9L292.6 80.0L292.6 80.0" stroke="#a52a2a" stroke-width="0.90" stroke-dasharray="8.33 8.33"/>
<path d="M1001.0 641.1L998.3 639.7L995.5 638.2L992.7 636.7L989.9 635.2L987.1 633.7L984.3 632.1L981.5 630.6L978.6 629.1L975.8 627.5L972.9 626.0L970.1 624.4L967.2 622.8L964.3 621.3L961.5 619.7L958.6 618.1L955.7 616.5L952.7 614.8L949.8 613.2L946.9 611.6L943.9 609.9L941.0 608.3L938.0 606.6L935.1 604.9L932.1 603.2L929.1 601.5L926.1 599.8L923.1 598.1L920.1 596.4L917.0 594.6L914.0 592.9L910.9 591.1L907.9 589.4L904.8 587.6L901.7 585.8L898.6 584.0L895.5 582.2L892.4 580.3L889.2 578.5L886.1 576.6L883.0 574.8L879.8 572.9L876.6 571.0L873.4 569.1L870.2 567.2L867.0 565.2L863.8 563.3L860.6 561.3L857.3 559.3L854.0 557.3L850.8 555.3L847.5 553.3L844.2 551.3L840.9 549.2L837.5 547.2L834.2 545.1L830.9 543.0L827.5 540.9L824.1 538.8L820.7 536.6L817.3 534.5L813.9 532.3L810.4 530.1L807.0 527.9L803.5 525.7L800.1 523.4L796.6 521.2L793.0 518.9L789.5 516.6L786.0 514.3L782.4 511.9L778.9 509.6L775.3 507.2L771.7 504.8L768.0 502.3L764.4 499.9L760.7 497.4L757.1 495.0L753.4 492.4L749.7 489.9L746.0 487.4L742.2 484.8L738.5 482.2L734.7 479.5L730.9 476.9L727.1 474.2L723.2 471.5L719.4 468.8L715.5 466.0L711.6 463.2L707.7 460.4L703.8 457.6L699.8 454.7L695.9 451.8L691.9 448.9L687.8 445.9L683.8 442.9L679.7 439.9L675.7 436.8L671.6 433.7L667.4 430.6L663.3 427.4L659.1 424.2L654.9 421.0L650.7 417.7L646.4 414.4L642.2 411.0L637.9 407.6L633.5 404.2L629.2 400.7L624.8 397.1L620.4 393.6L616.0 390.0L611.5 386.3L607.0 382.6L602.5 378.8L598.0 375.0L593.4 371.1L588.8 367.2L584.2 363.2L579.5 359.1L574.8 355.0L570.1 350.9L565.3 346.6L560.5 342.4L555.7 338.0L550.8 333.6L545.9 329.1L541.0 324.5L536.0 319.8L531.0 315.1L525.9 310.3L520.8 305.4L515.7 300.4L510.5 295.3L505.3 290.2L500.1 284.9L494.8 279.5L489.4 274.0L484.1 268.5L478.6 262.8L473.2 256.9L467.6 251.0L462.1 244.9L456.4 238.7L450.8 232.3L445.1 225.8L439.3 219.2L433.4 212.4L427.6 205.4L421.6 198.2L415.6 190.8L409.6 183.3L403.5 175.5L397.3 167.5L391.1 159.3L384.8 150.8L378.4 142.0L372.0 133.0L365.5 123.6L358.9 114.0L352.3 104.0L345.6 93.6L338.9 82.8L337.2 80.0" stroke="#a52a2a" stroke-width="0.90" stroke-dasharray="8.33 8.33"/>
<path d="M1001.0 599.2L998.3 597.7L995.1 596.0L991.9 594.2L988.7 592.5L985.6 590.7L982.4 588.9L979.1 587.1L975.9 585.3L972.7 583.5L969.4 581.7L966.2 579.9L962.9 578.0L959.6 576.2L956.3 574.3L953.0 572.4L949.7 570.5L946.3 568.6L943.0 566.7L939.6 564.7L936.2 562.8L932.9 560.8L929.5 558.8L926.0 556.8L922.6 554.8L919.2 552.8L915.7 550.8L912.3 548.7L908.8 546.7L905.3 544.6L901.8 542.5L898.2 540.4L894.7 538.2L891.1 536.1L887.6 533.9L884.0 531.8L880.4 529.6L876.8 527.3L873.1 525.1L869.5 522.9L865.8 520.6L862.2 518.3L858.5 516.0L854.8 513.7L851.0 511.3L847.3 509.0L843.5 506.6L839.7 504.2L835.9 501.7L832.1 499.3L828.3 496.8L824.4 494.3L820.6 491.8L816.7 489.3L812.8 486.7L808.9 484.1L804.9 481.5L800.9 478.9L797.0 476.2L793.0 473.5L788.9 470.8L784.9 468.1L780.8 465.3L776.7 462.5L772.6 459.7L768.5 456.9L764.3 454.0L760.2 451.1L756.0 448.1L751.8 445.1L747.5 442.1L743.2 439.1L739.0 436.0L734.6 432.9L730.3 429.8L725.9 426.6L721.5 423.4L717.1 420.1L712.7 416.9L708.2 413.5L703.7 410.2L699.2 406.7L694.7 403.3L690.1 399.8L685.5 396.3L680.8 392.7L676.2 389.0L671.5 385.4L666.7 381.6L662.0 377.8L657.2 374.0L652.4 370.1L647.5 366.2L642.6 362.2L637.7 358.1L632.7 354.0L627.7 349.8L622.7 345.6L617.7 341.3L612.6 336.9L607.4 332.4L602.2 327.9L597.0 323.3L591.8 318.7L586.5 313.9L581.1 309.1L575.7 304.2L570.3 299.2L564.8 294.1L559.3 288.9L553.8 283.6L548.1 278.2L542.5 272.7L536.8 267.0L531.0 261.3L525.2 255.5L519.3 249.5L513.4 243.4L507.5 237.1L501.4 230.7L495.3 224.2L489.2 217.5L483.0 210.6L476.7 203.6L470.4 196.4L464.0 189.0L457.6 181.4L451.0 173.5L444.4 165.5L437.8 157.2L431.1 148.6L424.2 139.8L417.4 130.7L410.4 121.3L403.4 111.5L396.3 101.4L389.1 90.9L381.8 80.0L381.8 80.0" stroke="#a52a2a" stroke-width="0.90" stroke-dasharray="8.33 8.33"/>
<path d="M1001.0 558.0L998.0 556.3L994.4 554.3L990.8 552.3L987.2 550.3L983.6 548.2L979.9 546.1L976.3 544.1L972.6 542.0L968.9 539.8L965.2 537.7L961.5 535.6L957.8 533.4L954.0 531.2L950.3 529.0L946.5 526.8L942.7 524.5L938.9 522.3L935.0 520.0L931.2 517.7L927.3 515.4L923.4 513.1L919.5 510.7L915.6 508.4L911.7 506.0L907.7 503.6L903.8 501.1L899.8 498.7L895.8 496.2L891.7 493.7L887.7 491.2L883.6 488.6L879.5 486.1L875.4 483.5L871.3 480.9L867.1 478.2L862.9 475.6L858.8 472.9L854.5 470.1L850.3 467.4L846.0 464.6L841.8 461.8L837.5 459.0L833.1 456.1L828.8 453.2L824.4 450.3L820.0 447.4L815.6 444.4L811.1 441.4L806.6 438.3L802.1 435.3L797.6 432.1L793.1 429.0L788.5 425.8L783.9 422.6L779.2 419.3L774.6 416.0L769.9 412.7L765.2 409.3L760.4 405.9L755.6 402.4L750.8 398.9L746.0 395.4L741.1 391.8L736.2 388.1L731.3 384.4L726.3 380.7L721.3 376.9L716.3 373.0L711.2 369.1L706.1 365.2L700.9 361.2L695.8 357.1L690.6 353.0L685.3 348.8L680.0 344.5L674.7 340.2L669.3 335.8L663.9 331.3L658.4 326.8L652.9 322.2L647.4 317.5L641.8 312.7L636.2 307.9L630.5 302.9L624.7 297.9L619.0 292.8L613.1 287.5L607.3 282.2L601.3 276.8L595.4 271.3L589.3 265.6L583.2 259.9L577.1 254.0L570.9 248.0L564.6 241.8L558.3 235.5L551.9 229.1L545.5 222.5L539.0 215.8L532.4 208.9L525.7 201.8L519.0 194.5L512.2 187.1L505.4 179.4L498.4 171.5L491.4 163.4L484.3 155.1L477.1 146.4L469.9 137.5L462.5 128.4L455.1 118.8L447.6 109.0L439.9 98.8L432.2 88.2L426.4 80.0" stroke="#a52a2a" stroke-width="0.90" stroke-dasharray="8.33 8.33"/>
<path d="M1001.0 517.6L997.1 515.4L993.1 513.1L989.0 510.7L984.9 508.4L980.8 506.0L976.7 503.6L972.5 501.1L968.4 498.7L964.2 496.2L960.0 493.7L955.7 491.2L951.5 488.6L947.2 486.1L942.9 483.5L938.6 480.9L934.3 478.2L929.9 475.6L925.6 472.9L921.2 470.1L916.7 467.4L912.3 464.6L907.8 461.8L903.3 459.0L898.8 456.1L894.2 453.2L889.7 450.3L885.1 447.4L880.4 444.4L875.8 441.4L871.1 438.3L866.4 435.3L861.7 432.1L856.9 429.0L852.1 425.8L847.3 422.6L842.5 419.3L837.6 416.0L832.7 412.7L827.7 409.3L822.8 405.9L817.8 402.4L812.7 398.9L807.7 395.4L802.6 391.8L797.4 388.1L792.3 384.4L787.1 380.7L781.8 376.9L776.6 373.0L771.2 369.1L765.9 365.2L760.5 361.2L755.1 357.1L749.6 353.0L744.1 348.8L738.5 344.5L733.0 340.2L727.3 335.8L721.6 331.3L715.9 326.8L710.1 322.2L704.3 317.5L698.5 312.7L692.5 307.9L686.6 302.9L680.6 297.9L674.5 292.8L668.4 287.5L662.2 282.2L656.0 276.8L649.7 271.3L643.3 265.6L636.9 259.9L630.4 254.0L623.9 248.0L617.3 241.8L610.6 235.5L603.9 229.1L597.1 222.5L590.2 215.8L583.3 208.9L576.3 201.8L569.2 194.5L562.0 187.1L554.8 179.4L547.4 171.5L540.0 163.4L532.5 155.1L524.9 146.4L517.2 137.5L509.4 128.4L501.5 118.8L493.5 109.0L485.4 98.8L477.2 88.2L471.0 80.0" stroke="#a52a2a" stroke-width="0.90" stroke-dasharray="8.33 8.33"/>
<path d="M1001.0 477.9L996.9 475.6L992.4 472.9L987.8 470.1L983.1 467.4L978.5 464.6L973.8 461.8L969.2 459.0L964.4 456.1L959.7 453.2L954.9 450.3L950.1 447.4L945.3 444.4L940.5 441.4L935.6 438.3L930.7 435.3L925.7 432.1L920.8 429.0L915.8 425.8L910.8 422.6L905.7 419.3L900.6 416.0L895.5 412.7L890.3 409.3L885.1 405.9L879.9 402.4L874.7 398.9L869.4 395.4L864.0 391.8L858.7 388.1L853.3 384.4L847.8 380.7L842.4 376.9L836.8 373.0L831.3 369.1L825.7 365.2L820.1 361.2L814.4 357.1L808.7 353.0L802.9 348.8L797.1 344.5L791.2 340.2L785.3 335.8L779.4 331.3L773.4 326.8L767.4 322.2L761.3 317.5L755.1 312.7L748.9 307.9L742.7 302.9L736.4 297.9L730.0 292.8L723.6 287.5L717.1 282.2L710.6 276.8L704.0 271.3L697.3 265.6L690.6 259.9L683.8 254.0L676.9 248.0L670.0 241.8L663.0 235.5L655.9 229.1L648.8 222.5L641.5 215.8L634.2 208.9L626.8 201.8L619.4 194.5L611.8 187.1L604.2 179.4L596.4 171.5L588.6 163.4L580.7 155.1L572.6 146.4L564.5 137.5L556.3 128.4L547.9 118.8L539.5 109.0L530.9 98.8L522.2 88.2L515.6 80.0" stroke="#a52a2a" stroke-width="0.90" stroke-dasharray="8.33 8.33"/>
<path d="M1001.0 438.9L996.2 436.0L991.1 432.9L985.9 429.8L980.7 426.6L975.5 423.4L970.2 420.1L964.9 416.9L959.6 413.5L954.2 410.2L948.8 406.7L943.4 403.3L937.9 399.8L932.4 396.3L926.9 392.7L921.3 389.0L915.7 385.4L910.0 381.6L904.3 377.8L898.6 374.0L892.8 370.1L887.0 366.2L881.1 362.2L875.2 358.1L869.2 354.0L863.2 349.8L857.2 345.6L851.1 341.3L844.9 336.9L838.7 332.4L832.5 327.9L826.2 323.3L819.8 318.7L813.4 313.9L806.9 309.1L800.4 304.2L793.8 299.2L787.2 294.1L780.5 288.9L773.7 283.6L766.9 278.2L760.0 272.7L753.0 267.0L746.0 261.3L738.9 255.5L731.7 249.5L724.5 243.4L717.2 237.1L709.8 230.7L702.3 224.2L694.7 217.5L687.1 210.6L679.4 203.6L671.5 196.4L663.6 189.0L655.6 181.4L647.5 173.5L639.3 165.5L631.0 157.2L622.5 148.6L614.0 139.8L605.3 130.7L596.6 121.3L587.7 111.5L578.7 101.4L569.5 90.9L560.2 80.0L560.2 80.0" stroke="#a52a2a" stroke-width="0.90" stroke-dasharray="8.33 8.33"/>
<path d="M1001.0 400.5L995.6 397.1L989.9 393.6L984.0 390.0L978.2 386.3L972.3 382.6L966.4 378.8L960.4 375.0L954.4 371.1L948.3 367.2L942.2 363.2L936.1 359.1L929.9 355.0L923.6 350.9L917.3 346.6L911.0 342.4L904.6 338.0L898.2 333.6L891.6 329.1L885.1 324.5L878.5 319.8L871.8 315.1L865.1 310.3L858.3 305.4L851.4 300.4L844.5 295.3L837.5 290.2L830.5 284.9L823.4 279.5L816.2 274.0L808.9 268.5L801.6 262.8L794.2 256.9L786.7 251.0L779.2 244.9L771.5 238.7L763.8 232.3L756.0 225.8L748.1 219.2L740.1 212.4L732.0 205.4L723.9 198.2L715.6 190.8L707.2 183.3L698.7 175.5L690.1 167.5L681.4 159.3L672.6 150.8L663.7 142.0L654.6 133.0L645.4 123.6L636.1 114.0L626.7 104.0L617.1 93.6L607.3 82.8L604.8 80.0" stroke="#a52a2a" stroke-width="0.90" stroke-dasharray="8.33 8.33"/>
<path d="M1001.0 362.6L995.5 359.1L989.1 355.0L982.6 350.9L976.0 346.6L969.4 342.4L962.8 338.0L956.0 333.6L949.3 329.1L942.4 324.5L935.6 319.8L928.6 315.1L921.6 310.3L914.5 305.4L907.4 300.4L900.2 295.3L892.9 290.2L885.5 284.9L878.1 279.5L870.6 274.0L863.1 268.5L855.4 262.8L847.7 256.9L839.9 251.0L832.0 244.9L824.0 238.7L816.0 232.3L807.8 225.8L799.6 219.2L791.2 212.4L782.8 205.4L774.2 198.2L765.6 190.8L756.8 183.3L747.9 175.5L739.0 167.5L729.8 159.3L720.6 150.8L711.2 142.0L701.7 133.0L692.1 123.6L682.3 114.0L672.4 104.0L662.3 93.6L652.0 82.8L649.5 80.0" stroke="#a52a2a" stroke-width="0.90" stroke-dasharray="8.33 8.33"/>
<path d="M430.9 671.5L429.9 670.2L428.8 668.9L427.7 667.5L426.7 666.2L425.6 664.8L424.4 663.5L423.3 662.1L422.2 660.7L421.0 659.4L419.9 658.0L418.7 656.6L417.5 655.2L416.3 653.8L415.1 652.4L413.9 650.9L412.7 649.5L411.5 648.1L410.2 646.6L408.9 645.2L407.7 643.7L406.4 642.3L405.1 640.8L403.7 639.3L402.4 637.8L401.1 636.3L399.7 634.8L398.3 633.3L396.9 631.8L395.5 630.2L394.1 628.7L392.7 627.1L391.3 625.6L389.8 624.0L388.3 622.4L386.8 620.9L385.3 619.3L383.8 617.7L382.3 616.1L380.8 614.4L379.2 612.8L377.6 611.2L376.0 609.5L374.4 607.9L372.8 606.2L371.2 604.5L369.6 602.8L367.9 601.1L366.2 599.4L364.5 597.7L362.8 596.0L361.1 594.2L359.3 592.5L357.6 590.7L355.8 588.9L354.0 587.1L352.2 585.3L350.4 583.5L348.6 581.7L346.7 579.9L344.9 578.0L343.0 576.2L341.1 574.3L339.2 572.4L337.3 570.5L335.3 568.6L333.4 566.7L331.4 564.7L329.4 562.8L327.4 560.8L325.4 558.8L323.3 556.8L321.3 554.8L319.2 552.8L317.1 550.8L315.0 548.7L312.9 546.7L310.8 544.6L308.6 542.5L306.5 540.4L304.3 538.2L302.1 536.1L299.9 533.9L297.7 531.8L295.4 529.6L293.2 527.3L290.9 525.1L288.6 522.9L286.3 520.6L284.0 518.3L281.7 516.0L279.3 513.7L277.0 511.3L274.6 509.0L272.2 506.6L269.8 504.2L267.4 501.7L264.9 499.3L262.5 496.8L260.0 494.3L257.5 491.8L255.1 489.3L252.6 486.7L250.0 484.1L247.5 481.5L244.9 478.9L242.4 476.2L239.8 473.5L237.2 470.8L234.6 468.1L232.0 465.3L229.3 462.5L226.7 459.7L224.0 456.9L221.4 454.0L218.7 451.1L216.0 448.1L213.2 445.1L210.5 442.1L207.8 439.1L205.0 436.0L202.2 432.9L199.4 429.8L196.6 426.6L193.8 423.4L191.0 420.1L188.1 416.9L185.3 413.5L182.4 410.2L179.5 406.7L176.6 403.3L173.7 399.8L170.7 396.3L167.8 392.7L164.8 389.0L161.8 385.4L158.8 381.6L155.8 377.8L152.8 374.0L149.8 370.1L146.7 366.2L143.6 362.2L140.6 358.1L137.5 354.0L134.4 349.8L131.2 345.6L128.1 341.3L124.9 336.9L121.7 332.4L118.5 327.9L115.3 323.3L112.1 318.7L108.9 313.9L105.6 309.1L102.3 304.2L99.1 299.2L95.8 294.1L92.4 288.9L89.1 283.6L85.8 278.2L82.4 272.7L79.0 267.0L75.6 261.3L72.2 255.5L68.8 249.5L65.3 243.4L61.9 237.1L58.4 230.7L54.9 224.2L51.4 217.5L47.9 210.6L44.4 203.6L40.8 196.4L37.3 189.0L33.7 181.4L30.2 173.5L26.6 165.5L23.0 157.2L19.5 148.6L15.9 139.8L12.3 130.7L8.7 121.3L5.2 111.5L1.6 101.4L-1.9 90.9L-5.5 80.0L-5.5 80.0" stroke="#008000" stroke-width="1.00" stroke-dasharray="1.39 4.17"/>
<path d="M517.2 671.5L516.5 670.2L515.8 668.9L515.1 667.5L514.3 666.2L513.6 664.8L512.9 663.5L512.1 662.1L511.3 660.7L510.5 659.4L509.8 658.0L509.0 656.6L508.1 655.2L507.3 653.8L506.5 652.4L505.7 650.9L504.8 649.5L503.9 648.1L503.1 646.6L502.2 645.2L501.3 643.7L500.4 642.3L499.5 640.8L498.5 639.3L497.6 637.8L496.6 636.3L495.6 634.8L494.7 633.3L493.7 631.8L492.7 630.2L491.6 628.7L490.6 627.1L489.5 625.6L488.5 624.0L487.4 622.4L486.3 620.9L485.2 619.3L484.1 617.7L482.9 616.1L481.8 614.4L480.6 612.8L479.4 611.2L478.2 609.5L477.0 607.9L475.7 606.2L474.5 604.5L473.2 602.8L471.9 601.1L470.6 599.4L469.3 597.7L468.0 596.0L466.6 594.2L465.2 592.5L463.8 590.7L462.4 588.9L461.0 587.1L459.5 585.3L458.0 583.5L456.5 581.7L455.0 579.9L453.5 578.0L451.9 576.2L450.3 574.3L448.7 572.4L447.1 570.5L445.5 568.6L443.8 566.7L442.1 564.7L440.4 562.8L438.7 560.8L436.9 558.8L435.1 556.8L433.3 554.8L431.5 552.8L429.7 550.8L427.8 548.7L425.9 546.7L424.0 544.6L422.0 542.5L420.1 540.4L418.1 538.2L416.0 536.1L414.0 533.9L411.9 531.8L409.8 529.6L407.7 527.3L405.6 525.1L403.4 522.9L401.2 520.6L399.0 518.3L396.7 516.0L394.5 513.7L392.2 511.3L389.9 509.0L387.5 506.6L385.1 504.2L382.7 501.7L380.3 499.3L377.9 496.8L375.4 494.3L372.9 491.8L370.3 489.3L367.8 486.7L365.2 484.1L362.6 481.5L360.0 478.9L357.3 476.2L354.6 473.5L351.9 470.8L349.2 468.1L346.4 465.3L343.7 462.5L340.9 459.7L338.0 456.9L335.2 454.0L332.3 451.1L329.4 448.1L326.5 445.1L323.5 442.1L320.5 439.1L317.5 436.0L314.5 432.9L311.5 429.8L308.4 426.6L305.3 423.4L302.2 420.1L299.0 416.9L295.9 413.5L292.7 410.2L289.5 406.7L286.2 403.3L283.0 399.8L279.7 396.3L276.4 392.7L273.1 389.0L269.7 385.4L266.3 381.6L262.9 377.8L259.5 374.0L256.1 370.1L252.6 366.2L249.1 362.2L245.6 358.1L242.1 354.0L238.5 349.8L234.9 345.6L231.3 341.3L227.7 336.9L224.1 332.4L220.4 327.9L216.7 323.3L213.0 318.7L209.2 313.9L205.4 309.1L201.6 304.2L197.8 299.2L194.0 294.1L190.1 288.9L186.2 283.6L182.3 278.2L178.3 272.7L174.3 267.0L170.3 261.3L166.3 255.5L162.3 249.5L158.2 243.4L154.1 237.1L149.9 230.7L145.8 224.2L141.6 217.5L137.4 210.6L133.1 203.6L128.9 196.4L124.6 189.0L120.3 181.4L115.9 173.5L111.6 165.5L107.2 157.2L102.8 148.6L98.3 139.8L93.9 130.7L89.4 121.3L85.0 111.5L80.6 101.4L76.1 90.9L71.7 80.0L71.7 80.0" stroke="#008000" stroke-width="1.00" stroke-dasharray="1.39 4.17"/>
<path d="M603.5 671.5L603.1 670.2L602.8 668.9L602.4 667.5L602.0 666.2L601.7 664.8L601.3 663.5L600.9 662.1L600.5 660.7L600.1 659.4L599.7 658.0L599.3 656.6L598.9 655.2L598.5 653.8L598.0 652.4L597.6 650.9L597.1 649.5L596.7 648.1L596.2 646.6L595.8 645.2L595.3 643.7L594.8 642.3L594.3 640.8L593.9 639.3L593.4 637.8L592.8 636.3L592.3 634.8L591.8 633.3L591.3 631.8L590.7 630.2L590.2 628.7L589.6 627.1L589.1 625.6L588.5 624.0L587.9 622.4L587.3 620.9L586.7 619.3L586.1 617.7L585.5 616.1L584.8 614.4L584.2 612.8L583.5 611.2L582.8 609.5L582.2 607.9L581.5 606.2L580.8 604.5L580.0 602.8L579.3 601.1L578.6 599.4L577.8 597.7L577.1 596.0L576.3 594.2L575.5 592.5L574.7 590.7L573.8 588.9L573.0 587.1L572.2 585.3L571.3 583.5L570.4 581.7L569.5 579.9L568.6 578.0L567.6 576.2L566.7 574.3L565.7 572.4L564.7 570.5L563.7 568.6L562.7 566.7L561.6 564.7L560.6 562.8L559.5 560.8L558.4 558.8L557.3 556.8L556.1 554.8L554.9 552.8L553.7 550.8L552.5 548.7L551.3 546.7L550.0 544.6L548.7 542.5L547.4 540.4L546.1 538.2L544.7 536.1L543.3 533.9L541.9 531.8L540.4 529.6L539.0 527.3L537.5 525.1L535.9 522.9L534.3 520.6L532.7 518.3L531.1 516.0L529.4 513.7L527.8 511.3L526.0 509.0L524.3 506.6L522.5 504.2L520.6 501.7L518.7 499.3L516.8 496.8L514.9 494.3L512.9 491.8L510.9 489.3L508.8 486.7L506.7 484.1L504.6 481.5L502.4 478.9L500.1 476.2L497.9 473.5L495.6 470.8L493.2 468.1L490.8 465.3L488.3 462.5L485.8 459.7L483.3 456.9L480.7 454.0L478.1 451.1L475.4 448.1L472.7 445.1L469.9 442.1L467.1 439.1L464.2 436.0L461.3 432.9L458.3 429.8L455.3 426.6L452.3 423.4L449.2 420.1L446.0 416.9L442.8 413.5L439.5 410.2L436.2 406.7L432.9 403.3L429.5 399.8L426.0 396.3L422.5 392.7L419.0 389.0L415.4 385.4L411.8 381.6L408.1 377.8L404.3 374.0L400.6 370.1L396.7 366.2L392.9 362.2L388.9 358.1L385.0 354.0L381.0 349.8L376.9 345.6L372.8 341.3L368.7 336.9L364.5 332.4L360.3 327.9L356.0 323.3L351.7 318.7L347.4 313.9L343.0 309.1L338.6 304.2L334.1 299.2L329.6 294.1L325.0 288.9L320.4 283.6L315.8 278.2L311.1 272.7L306.4 267.0L301.6 261.3L296.8 255.5L292.0 249.5L287.1 243.4L282.1 237.1L277.2 230.7L272.1 224.2L267.1 217.5L262.0 210.6L256.8 203.6L251.6 196.4L246.4 189.0L241.1 181.4L235.8 173.5L230.4 165.5L225.0 157.2L219.5 148.6L214.0 139.8L208.5 130.7L202.9 121.3L197.3 111.5L191.7 101.4L186.0 90.9L180.3 80.0L180.3 80.0" stroke="#008000" stroke-width="1.00" stroke-dasharray="1.39 4.17"/>
<path d="M638.0 671.5L637.8 670.2L637.5 668.9L637.3 667.5L637.0 666.2L636.8 664.8L636.5 663.5L636.3 662.1L636.0 660.7L635.7 659.4L635.5 658.0L635.2 656.6L634.9 655.2L634.6 653.8L634.3 652.4L634.0 650.9L633.7 649.5L633.4 648.1L633.1 646.6L632.8 645.2L632.5 643.7L632.2 642.3L631.8 640.8L631.5 639.3L631.2 637.8L630.8 636.3L630.5 634.8L630.1 633.3L629.7 631.8L629.4 630.2L629.0 628.7L628.6 627.1L628.2 625.6L627.8 624.0L627.4 622.4L627.0 620.9L626.6 619.3L626.2 617.7L625.7 616.1L625.3 614.4L624.8 612.8L624.4 611.2L623.9 609.5L623.5 607.9L623.0 606.2L622.5 604.5L622.0 602.8L621.5 601.1L620.9 599.4L620.4 597.7L619.9 596.0L619.3 594.2L618.8 592.5L618.2 590.7L617.6 588.9L617.0 587.1L616.4 585.3L615.8 583.5L615.2 581.7L614.5 579.9L613.9 578.0L613.2 576.2L612.5 574.3L611.8 572.4L611.1 570.5L610.4 568.6L609.7 566.7L608.9 564.7L608.2 562.8L607.4 560.8L606.6 558.8L605.8 556.8L604.9 554.8L604.1 552.8L603.2 550.8L602.3 548.7L601.4 546.7L600.5 544.6L599.5 542.5L598.6 540.4L597.6 538.2L596.6 536.1L595.5 533.9L594.5 531.8L593.4 529.6L592.3 527.3L591.2 525.1L590.0 522.9L588.8 520.6L587.6 518.3L586.4 516.0L585.1 513.7L583.8 511.3L582.5 509.0L581.2 506.6L579.8 504.2L578.4 501.7L576.9 499.3L575.4 496.8L573.9 494.3L572.4 491.8L570.8 489.3L569.1 486.7L567.5 484.1L565.8 481.5L564.0 478.9L562.2 476.2L560.4 473.5L558.5 470.8L556.6 468.1L554.6 465.3L552.6 462.5L550.5 459.7L548.4 456.9L546.3 454.0L544.1 451.1L541.8 448.1L539.5 445.1L537.1 442.1L534.7 439.1L532.2 436.0L529.6 432.9L527.0 429.8L524.4 426.6L521.7 423.4L518.9 420.1L516.0 416.9L513.1 413.5L510.2 410.2L507.1 406.7L504.0 403.3L500.9 399.8L497.6 396.3L494.4 392.7L491.0 389.0L487.6 385.4L484.1 381.6L480.5 377.8L476.9 374.0L473.2 370.1L469.5 366.2L465.6 362.2L461.7 358.1L457.8 354.0L453.8 349.8L449.7 345.6L445.5 341.3L441.3 336.9L437.0 332.4L432.7 327.9L428.3 323.3L423.8 318.7L419.3 313.9L414.7 309.1L410.1 304.2L405.4 299.2L400.6 294.1L395.8 288.9L390.9 283.6L386.0 278.2L381.0 272.7L376.0 267.0L370.9 261.3L365.7 255.5L360.5 249.5L355.3 243.4L349.9 237.1L344.6 230.7L339.1 224.2L333.7 217.5L328.1 210.6L322.5 203.6L316.9 196.4L311.2 189.0L305.4 181.4L299.6 173.5L293.7 165.5L287.8 157.2L281.8 148.6L275.8 139.8L269.7 130.7L263.6 121.3L257.3 111.5L251.1 101.4L244.7 90.9L238.4 80.0L238.4 80.0" stroke="#008000" stroke-width="1.00" stroke-dasharray="1.39 4.17"/>
<path d="M672.5 671.5L672.4 670.2L672.3 668.9L672.1 667.5L672.0 666.2L671.9 664.8L671.7 663.5L671.6 662.1L671.5 660.7L671.3 659.4L671.2 658.0L671.0 656.6L670.9 655.2L670.7 653.8L670.6 652.4L670.4 650.9L670.2 649.5L670.1 648.1L669.9 646.6L669.7 645.2L669.5 643.7L669.4 642.3L669.2 640.8L669.0 639.3L668.8 637.8L668.6 636.3L668.4 634.8L668.2 633.3L668.0 631.8L667.8 630.2L667.6 628.7L667.4 627.1L667.1 625.6L666.9 624.0L666.7 622.4L666.4 620.9L666.2 619.3L665.9 617.7L665.7 616.1L665.4 614.4L665.2 612.8L664.9 611.2L664.6 609.5L664.4 607.9L664.1 606.2L663.8 604.5L663.5 602.8L663.2 601.1L662.9 599.4L662.6 597.7L662.2 596.0L661.9 594.2L661.6 592.5L661.2 590.7L660.9 588.9L660.5 587.1L660.1 585.3L659.8 583.5L659.4 581.7L659.0 579.9L658.6 578.0L658.2 576.2L657.8 574.3L657.3 572.4L656.9 570.5L656.5 568.6L656.0 566.7L655.5 564.7L655.1 562.8L654.6 560.8L654.1 558.8L653.6 556.8L653.0 554.8L652.5 552.8L651.9 550.8L651.4 548.7L650.8 546.7L650.2 544.6L649.6 542.5L649.0 540.4L648.3 538.2L647.7 536.1L647.0 533.9L646.3 531.8L645.6 529.6L644.9 527.3L644.2 525.1L643.4 522.9L642.7 520.6L641.9 518.3L641.0 516.0L640.2 513.7L639.4 511.3L638.5 509.0L637.6 506.6L636.6 504.2L635.7 501.7L634.7 499.3L633.7 496.8L632.7 494.3L631.6 491.8L630.5 489.3L629.4 486.7L628.2 484.1L627.1 481.5L625.8 478.9L624.6 476.2L623.3 473.5L622.0 470.8L620.6 468.1L619.2 465.3L617.8 462.5L616.3 459.7L614.8 456.9L613.2 454.0L611.6 451.1L609.9 448.1L608.2 445.1L606.5 442.1L604.7 439.1L602.8 436.0L600.9 432.9L598.9 429.8L596.8 426.6L594.7 423.4L592.6 420.1L590.4 416.9L588.1 413.5L585.7 410.2L583.3 406.7L580.8 403.3L578.2 399.8L575.5 396.3L572.8 392.7L570.0 389.0L567.1 385.4L564.1 381.6L561.1 377.8L557.9 374.0L554.7 370.1L551.4 366.2L548.0 362.2L544.5 358.1L540.9 354.0L537.2 349.8L533.4 345.6L529.5 341.3L525.6 336.9L521.5 332.4L517.3 327.9L513.1 323.3L508.7 318.7L504.3 313.9L499.7 309.1L495.1 304.2L490.3 299.2L485.5 294.1L480.6 288.9L475.5 283.6L470.4 278.2L465.2 272.7L459.9 267.0L454.6 261.3L449.1 255.5L443.6 249.5L437.9 243.4L432.2 237.1L426.4 230.7L420.5 224.2L414.6 217.5L408.6 210.6L402.4 203.6L396.3 196.4L390.0 189.0L383.6 181.4L377.2 173.5L370.7 165.5L364.2 157.2L357.5 148.6L350.8 139.8L344.0 130.7L337.1 121.3L330.1 111.5L323.1 101.4L315.9 90.9L308.7 80.0L308.7 80.0" stroke="#008000" stroke-width="1.00" stroke-dasharray="1.39 4.17"/>
<path d="M707.0 671.5L707.0 670.2L707.0 668.9L706.9 667.5L706.9 666.2L706.9 664.8L706.8 663.5L706.8 662.1L706.8 660.7L706.7 659.4L706.7 658.0L706.7 656.6L706.6 655.2L706.6 653.8L706.5 652.4L706.5 650.9L706.4 649.5L706.4 648.1L706.4 646.6L706.3 645.2L706.2 643.7L706.2 642.3L706.1 640.8L706.1 639.3L706.0 637.8L706.0 636.3L705.9 634.8L705.8 633.3L705.8 631.8L705.7 630.2L705.6 628.7L705.5 627.1L705.5 625.6L705.4 624.0L705.3 622.4L705.2 620.9L705.1 619.3L705.0 617.7L704.9 616.1L704.8 614.4L704.7 612.8L704.6 611.2L704.5 609.5L704.4 607.9L704.3 606.2L704.2 604.5L704.1 602.8L703.9 601.1L703.8 599.4L703.7 597.7L703.5 596.0L703.4 594.2L703.2 592.5L703.1 590.7L702.9 588.9L702.8 587.1L702.6 585.3L702.5 583.5L702.3 581.7L702.1 579.9L701.9 578.0L701.7 576.2L701.6 574.3L701.4 572.4L701.2 570.5L700.9 568.6L700.7 566.7L700.5 564.7L700.3 562.8L700.0 560.8L699.8 558.8L699.5 556.8L699.3 554.8L699.0 552.8L698.8 550.8L698.5 548.7L698.2 546.7L697.9 544.6L697.6 542.5L697.3 540.4L696.9 538.2L696.6 536.1L696.3 533.9L695.9 531.8L695.5 529.6L695.2 527.3L694.8 525.1L694.4 522.9L694.0 520.6L693.5 518.3L693.1 516.0L692.7 513.7L692.2 511.3L691.7 509.0L691.2 506.6L690.7 504.2L690.2 501.7L689.6 499.3L689.1 496.8L688.5 494.3L687.9 491.8L687.3 489.3L686.6 486.7L686.0 484.1L685.3 481.5L684.6 478.9L683.9 476.2L683.1 473.5L682.4 470.8L681.6 468.1L680.7 465.3L679.9 462.5L679.0 459.7L678.1 456.9L677.2 454.0L676.2 451.1L675.2 448.1L674.1 445.1L673.0 442.1L671.9 439.1L670.8 436.0L669.6 432.9L668.3 429.8L667.0 426.6L665.7 423.4L664.3 420.1L662.9 416.9L661.4 413.5L659.8 410.2L658.2 406.7L656.6 403.3L654.8 399.8L653.0 396.3L651.2 392.7L649.3 389.0L647.3 385.4L645.2 381.6L643.0 377.8L640.8 374.0L638.4 370.1L636.0 366.2L633.5 362.2L630.9 358.1L628.2 354.0L625.4 349.8L622.4 345.6L619.4 341.3L616.2 336.9L613.0 332.4L609.6 327.9L606.1 323.3L602.4 318.7L598.6 313.9L594.7 309.1L590.7 304.2L586.5 299.2L582.1 294.1L577.7 288.9L573.0 283.6L568.2 278.2L563.3 272.7L558.2 267.0L553.0 261.3L547.6 255.5L542.1 249.5L536.5 243.4L530.6 237.1L524.7 230.7L518.6 224.2L512.4 217.5L506.0 210.6L499.5 203.6L492.8 196.4L486.1 189.0L479.2 181.4L472.1 173.5L465.0 165.5L457.7 157.2L450.3 148.6L442.8 139.8L435.2 130.7L427.5 121.3L419.6 111.5L411.7 101.4L403.6 90.9L395.4 80.0L395.4 80.0" stroke="#008000" stroke-width="1.00" stroke-dasharray="1.39 4.17"/>
<path d="M741.5 671.5L741.6 670.2L741.6 668.9L741.7 667.5L741.8 666.2L741.8 664.8L741.9 663.5L741.9 662.1L742.0 660.7L742.1 659.4L742.1 658.0L742.2 656.6L742.3 655.2L742.3 653.8L742.4 652.4L742.4 650.9L742.5 649.5L742.6 648.1L742.6 646.6L742.7 645.2L742.7 643.7L742.8 642.3L742.8 640.8L742.9 639.3L743.0 637.8L743.0 636.3L743.1 634.8L743.1 633.3L743.2 631.8L743.2 630.2L743.3 628.7L743.3 627.1L743.4 625.6L743.4 624.0L743.5 622.4L743.5 620.9L743.6 619.3L743.6 617.7L743.7 616.1L743.7 614.4L743.7 612.8L743.8 611.2L743.8 609.5L743.8 607.9L743.9 606.2L743.9 604.5L744.0 602.8L744.0 601.1L744.0 599.4L744.0 597.7L744.1 596.0L744.1 594.2L744.1 592.5L744.1 590.7L744.2 588.9L744.2 587.1L744.2 585.3L744.2 583.5L744.2 581.7L744.2 579.9L744.2 578.0L744.2 576.2L744.2 574.3L744.2 572.4L744.2 570.5L744.2 568.6L744.2 566.7L744.2 564.7L744.2 562.8L744.2 560.8L744.1 558.8L744.1 556.8L744.1 554.8L744.1 552.8L744.0 550.8L744.0 548.7L743.9 546.7L743.9 544.6L743.8 542.5L743.8 540.4L743.7 538.2L743.6 536.1L743.6 533.9L743.5 531.8L743.4 529.6L743.3 527.3L743.2 525.1L743.1 522.9L743.0 520.6L742.9 518.3L742.8 516.0L742.7 513.7L742.5 511.3L742.4 509.0L742.2 506.6L742.1 504.2L741.9 501.7L741.7 499.3L741.5 496.8L741.3 494.3L741.1 491.8L740.9 489.3L740.7 486.7L740.5 484.1L740.2 481.5L739.9 478.9L739.7 476.2L739.4 473.5L739.1 470.8L738.8 468.1L738.4 465.3L738.1 462.5L737.7 459.7L737.3 456.9L736.9 454.0L736.5 451.1L736.1 448.1L735.6 445.1L735.1 442.1L734.6 439.1L734.1 436.0L733.6 432.9L733.0 429.8L732.4 426.6L731.7 423.4L731.1 420.1L730.4 416.9L729.7 413.5L728.9 410.2L728.1 406.7L727.3 403.3L726.4 399.8L725.5 396.3L724.5 392.7L723.5 389.0L722.5 385.4L721.3 381.6L720.2 377.8L719.0 374.0L717.7 370.1L716.3 366.2L714.9 362.2L713.5 358.1L711.9 354.0L710.3 349.8L708.6 345.6L706.8 341.3L704.9 336.9L702.9 332.4L700.8 327.9L698.6 323.3L696.2 318.7L693.8 313.9L691.2 309.1L688.5 304.2L685.7 299.2L682.7 294.1L679.5 288.9L676.2 283.6L672.7 278.2L669.0 272.7L665.1 267.0L661.1 261.3L656.8 255.5L652.3 249.5L647.6 243.4L642.7 237.1L637.5 230.7L632.1 224.2L626.5 217.5L620.6 210.6L614.4 203.6L608.0 196.4L601.4 189.0L594.5 181.4L587.3 173.5L579.9 165.5L572.3 157.2L564.5 148.6L556.4 139.8L548.1 130.7L539.5 121.3L530.8 111.5L521.9 101.4L512.8 90.9L503.5 80.0L503.5 80.0" stroke="#008000" stroke-width="1.00" stroke-dasharray="1.39 4.17"/>
<path d="M784.6 671.5L784.7 670.2L784.9 668.9L785.1 667.5L785.2 666.2L785.4 664.8L785.5 663.5L785.7 662.1L785.9 660.7L786.0 659.4L786.2 658.0L786.3 656.6L786.5 655.2L786.7 653.8L786.8 652.4L787.0 650.9L787.2 649.5L787.3 648.1L787.5 646.6L787.7 645.2L787.8 643.7L788.0 642.3L788.2 640.8L788.4 639.3L788.5 637.8L788.7 636.3L788.9 634.8L789.0 633.3L789.2 631.8L789.4 630.2L789.6 628.7L789.7 627.1L789.9 625.6L790.1 624.0L790.3 622.4L790.5 620.9L790.6 619.3L790.8 617.7L791.0 616.1L791.2 614.4L791.3 612.8L791.5 611.2L791.7 609.5L791.9 607.9L792.1 606.2L792.3 604.5L792.4 602.8L792.6 601.1L792.8 599.4L793.0 597.7L793.2 596.0L793.4 594.2L793.5 592.5L793.7 590.7L793.9 588.9L794.1 587.1L794.3 585.3L794.5 583.5L794.7 581.7L794.9 579.9L795.0 578.0L795.2 576.2L795.4 574.3L795.6 572.4L795.8 570.5L796.0 568.6L796.2 566.7L796.4 564.7L796.6 562.8L796.7 560.8L796.9 558.8L797.1 556.8L797.3 554.8L797.5 552.8L797.7 550.8L797.9 548.7L798.1 546.7L798.3 544.6L798.4 542.5L798.6 540.4L798.8 538.2L799.0 536.1L799.2 533.9L799.4 531.8L799.6 529.6L799.7 527.3L799.9 525.1L800.1 522.9L800.3 520.6L800.5 518.3L800.6 516.0L800.8 513.7L801.0 511.3L801.2 509.0L801.3 506.6L801.5 504.2L801.7 501.7L801.8 499.3L802.0 496.8L802.2 494.3L802.3 491.8L802.5 489.3L802.6 486.7L802.8 484.1L802.9 481.5L803.1 478.9L803.2 476.2L803.3 473.5L803.5 470.8L803.6 468.1L803.7 465.3L803.8 462.5L804.0 459.7L804.1 456.9L804.2 454.0L804.3 451.1L804.4 448.1L804.4 445.1L804.5 442.1L804.6 439.1L804.7 436.0L804.7 432.9L804.8 429.8L804.8 426.6L804.8 423.4L804.8 420.1L804.8 416.9L804.8 413.5L804.8 410.2L804.8 406.7L804.7 403.3L804.7 399.8L804.6 396.3L804.5 392.7L804.4 389.0L804.2 385.4L804.1 381.6L803.9 377.8L803.7 374.0L803.5 370.1L803.2 366.2L803.0 362.2L802.7 358.1L802.3 354.0L802.0 349.8L801.6 345.6L801.1 341.3L800.6 336.9L800.1 332.4L799.5 327.9L798.9 323.3L798.2 318.7L797.5 313.9L796.7 309.1L795.8 304.2L794.8 299.2L793.8 294.1L792.7 288.9L791.5 283.6L790.2 278.2L788.8 272.7L787.3 267.0L785.6 261.3L783.9 255.5L781.9 249.5L779.8 243.4L777.6 237.1L775.1 230.7L772.5 224.2L769.6 217.5L766.5 210.6L763.1 203.6L759.4 196.4L755.5 189.0L751.1 181.4L746.5 173.5L741.4 165.5L736.0 157.2L730.1 148.6L723.7 139.8L716.9 130.7L709.5 121.3L701.7 111.5L693.3 101.4L684.5 90.9L675.0 80.0L675.0 80.0" stroke="#008000" stroke-width="1.00" stroke-dasharray="1.39 4.17"/>
<path d="M819.1 671.5L819.3 670.2L819.5 668.9L819.7 667.5L820.0 666.2L820.2 664.8L820.4 663.5L820.6 662.1L820.9 660.7L821.1 659.4L821.3 658.0L821.6 656.6L821.8 655.2L822.1 653.8L822.3 652.4L822.5 650.9L822.8 649.5L823.0 648.1L823.3 646.6L823.5 645.2L823.8 643.7L824.0 642.3L824.3 640.8L824.5 639.3L824.8 637.8L825.0 636.3L825.3 634.8L825.5 633.3L825.8 631.8L826.0 630.2L826.3 628.7L826.6 627.1L826.8 625.6L827.1 624.0L827.4 622.4L827.6 620.9L827.9 619.3L828.2 617.7L828.4 616.1L828.7 614.4L829.0 612.8L829.3 611.2L829.5 609.5L829.8 607.9L830.1 606.2L830.4 604.5L830.7 602.8L831.0 601.1L831.3 599.4L831.5 597.7L831.8 596.0L832.1 594.2L832.4 592.5L832.7 590.7L833.0 588.9L833.3 587.1L833.6 585.3L833.9 583.5L834.2 581.7L834.5 579.9L834.8 578.0L835.2 576.2L835.5 574.3L835.8 572.4L836.1 570.5L836.4 568.6L836.7 566.7L837.0 564.7L837.4 562.8L837.7 560.8L838.0 558.8L838.3 556.8L838.7 554.8L839.0 552.8L839.3 550.8L839.7 548.7L840.0 546.7L840.3 544.6L840.7 542.5L841.0 540.4L841.4 538.2L841.7 536.1L842.1 533.9L842.4 531.8L842.7 529.6L843.1 527.3L843.5 525.1L843.8 522.9L844.2 520.6L844.5 518.3L844.9 516.0L845.2 513.7L845.6 511.3L846.0 509.0L846.3 506.6L846.7 504.2L847.1 501.7L847.4 499.3L847.8 496.8L848.2 494.3L848.6 491.8L848.9 489.3L849.3 486.7L849.7 484.1L850.1 481.5L850.5 478.9L850.8 476.2L851.2 473.5L851.6 470.8L852.0 468.1L852.4 465.3L852.8 462.5L853.2 459.7L853.5 456.9L853.9 454.0L854.3 451.1L854.7 448.1L855.1 445.1L855.5 442.1L855.9 439.1L856.3 436.0L856.7 432.9L857.0 429.8L857.4 426.6L857.8 423.4L858.2 420.1L858.6 416.9L859.0 413.5L859.4 410.2L859.7 406.7L860.1 403.3L860.5 399.8L860.9 396.3L861.2 392.7L861.6 389.0L862.0 385.4L862.3 381.6L862.7 377.8L863.0 374.0L863.3 370.1L863.7 366.2L864.0 362.2L864.3 358.1L864.6 354.0L864.9 349.8L865.2 345.6L865.5 341.3L865.7 336.9L866.0 332.4L866.2 327.9L866.4 323.3L866.6 318.7L866.8 313.9L866.9 309.1L867.1 304.2L867.2 299.2L867.2 294.1L867.3 288.9L867.3 283.6L867.2 278.2L867.2 272.7L867.0 267.0L866.9 261.3L866.6 255.5L866.4 249.5L866.0 243.4L865.6 237.1L865.1 230.7L864.5 224.2L863.8 217.5L862.9 210.6L862.0 203.6L860.9 196.4L859.7 189.0L858.3 181.4L856.7 173.5L854.9 165.5L852.8 157.2L850.5 148.6L847.8 139.8L844.8 130.7L841.4 121.3L837.7 111.5L833.5 101.4L828.7 90.9L823.2 80.0L823.2 80.0" stroke="#008000" stroke-width="1.00" stroke-dasharray="1.39 4.17"/>
<path d="M857.50 80.0L857.50 720.0" stroke="#000" stroke-width="1.25"/>
<path d="M856.94 212.70L823.39 207.02L823.39 207.02L829.86 194.31L831.78 208.44L835.98 209.15L835.02 202.08L835.98 209.15Z" fill="#000" stroke="#000" stroke-width="1.39" stroke-linejoin="miter"/>
<path d="M856.94 272.60L822.92 272.60L822.92 272.60L818.66 258.99L822.92 272.60L827.17 272.60L822.92 258.99L827.17 272.60L831.42 272.60L827.17 258.99L831.42 272.60L835.68 272.60L831.42 258.99L835.68 272.60L839.93 272.60L837.80 265.79L839.93 272.60Z" fill="#000" stroke="#000" stroke-width="1.39" stroke-linejoin="miter"/>
<path d="M856.94 334.80L823.98 343.26L823.98 343.26L816.48 331.13L823.98 343.26L828.10 342.20L820.60 330.07L828.10 342.20L832.22 341.14L824.72 329.01L832.22 341.14Z" fill="#000" stroke="#000" stroke-width="1.39" stroke-linejoin="miter"/>
<path d="M856.94 357.75L824.76 368.81L824.76 368.81L816.32 357.32L824.76 368.81L828.79 367.42L820.34 355.93L828.79 367.42L832.81 366.04L828.59 360.30L832.81 366.04Z" fill="#000" stroke="#000" stroke-width="1.39" stroke-linejoin="miter"/>
<path d="M856.94 385.75L823.91 393.90L823.91 393.90L816.52 381.70L823.91 393.90L828.04 392.88L824.34 386.78L828.04 392.88Z" fill="#000" stroke="#000" stroke-width="1.39" stroke-linejoin="miter"/>
<path d="M856.94 394.40L823.45 400.39L823.45 400.39L816.86 387.74L823.45 400.39L827.64 399.64L824.34 393.32L827.64 399.64Z" fill="#000" stroke="#000" stroke-width="1.39" stroke-linejoin="miter"/>
<path d="M856.94 406.60L827.32 423.35L827.32 423.35L816.92 413.59L827.32 423.35Z" fill="#000" stroke="#000" stroke-width="1.39" stroke-linejoin="miter"/>
<path d="M856.94 430.00L835.36 456.31L835.36 456.31L839.41 451.37L832.80 448.70L839.41 451.37Z" fill="#000" stroke="#000" stroke-width="1.39" stroke-linejoin="miter"/>
<path d="M856.94 462.80L823.90 470.90L823.90 470.90L816.52 458.70L823.90 470.90L828.03 469.89L824.34 463.79L828.03 469.89Z" fill="#000" stroke="#000" stroke-width="1.39" stroke-linejoin="miter"/>
<path d="M856.94 499.10L851.58 465.50L851.58 465.50L864.35 459.15L851.58 465.50Z" fill="#000" stroke="#000" stroke-width="1.39" stroke-linejoin="miter"/>
<path d="M856.94 509.30L850.88 475.82L850.88 475.82L863.52 469.21L850.88 475.82Z" fill="#000" stroke="#000" stroke-width="1.39" stroke-linejoin="miter"/>
<path d="M856.94 520.50L842.50 489.69L842.50 489.69L853.01 480.06L842.50 489.69L844.30 493.54L849.56 488.73L844.30 493.54Z" fill="#000" stroke="#000" stroke-width="1.39" stroke-linejoin="miter"/>
<path d="M856.94 527.00L844.44 495.35L844.44 495.35L855.54 486.40L844.44 495.35Z" fill="#000" stroke="#000" stroke-width="1.39" stroke-linejoin="miter"/>
<path d="M856.94 563.40L832.91 539.31L832.91 539.31L839.54 526.69L832.91 539.31Z" fill="#000" stroke="#000" stroke-width="1.39" stroke-linejoin="miter"/>
<path d="M856.94 583.00L837.05 555.40L837.05 555.40L845.60 543.99L837.05 555.40Z" fill="#000" stroke="#000" stroke-width="1.39" stroke-linejoin="miter"/>
<path d="M856.94 591.00L839.17 561.99L839.17 561.99L848.55 551.25L839.17 561.99L841.39 565.61L846.08 560.24L841.39 565.61Z" fill="#000" stroke="#000" stroke-width="1.39" stroke-linejoin="miter"/>
<path d="M856.94 603.80L832.06 580.59L832.06 580.59L838.24 567.73L832.06 580.59Z" fill="#000" stroke="#000" stroke-width="1.39" stroke-linejoin="miter"/>
<path d="M856.94 612.00L834.50 586.43L834.50 586.43L841.92 574.25L834.50 586.43Z" fill="#000" stroke="#000" stroke-width="1.39" stroke-linejoin="miter"/>
<path d="M856.94 619.00L848.51 586.03L848.51 586.03L860.64 578.54L848.51 586.03Z" fill="#000" stroke="#000" stroke-width="1.39" stroke-linejoin="miter"/>
<path d="M856.94 626.00L846.53 593.60L846.53 593.60L858.19 585.39L846.53 593.60L847.83 597.65L853.66 593.55L847.83 597.65Z" fill="#000" stroke="#000" stroke-width="1.39" stroke-linejoin="miter"/>
<path d="M856.94 633.00L848.51 600.03L848.51 600.03L860.64 592.54L848.51 600.03Z" fill="#000" stroke="#000" stroke-width="1.39" stroke-linejoin="miter"/>
<path d="M856.94 638.50L844.88 606.68L844.88 606.68L856.10 597.88L844.88 606.68Z" fill="#000" stroke="#000" stroke-width="1.39" stroke-linejoin="miter"/>
<path d="M856.94 645.00L837.86 616.83L837.86 616.83L846.74 605.67L837.86 616.83Z" fill="#000" stroke="#000" stroke-width="1.39" stroke-linejoin="miter"/>
<circle cx="856.94" cy="654.50" r="5.10" fill="none" stroke="#000" stroke-width="1.39"/>
<path d="M856.94 663.75L840.45 693.51L840.45 693.51L826.48 690.63L840.45 693.51Z" fill="#000" stroke="#000" stroke-width="1.39" stroke-linejoin="miter"/>
<path d="M856.94 671.60L890.54 677.02L890.54 677.02L884.24 676.01L885.25 683.06L884.24 676.01Z" fill="#000" stroke="#000" stroke-width="1.39" stroke-linejoin="miter"/>
</g>
<rect x="125.5" y="80.5" width="775.0" height="640.0" fill="none" stroke="#000" stroke-width="1.60"/>
<path d="M125.50 720.5v-5.56M125.50 80.5v5.56M211.50 720.5v-5.56M211.50 80.5v5.56M297.50 720.5v-5.56M297.50 80.5v5.56M383.50 720.5v-5.56M383.50 80.5v5.56M469.50 720.5v-5.56M469.50 80.5v5.56M556.50 720.5v-5.56M556.50 80.5v5.56M642.50 720.5v-5.56M642.50 80.5v5.56M728.50 720.5v-5.56M728.50 80.5v5.56M814.50 720.5v-5.56M814.50 80.5v5.56M900.50 720.5v-5.56M900.50 80.5v5.56M125.50 80.5h5.56M900.50 80.5h-5.56M125.50 273.5h5.56M900.50 273.5h-5.56M125.50 385.5h5.56M900.50 385.5h-5.56M125.50 465.5h5.56M900.50 465.5h-5.56M125.50 527.5h5.56M900.50 527.5h-5.56M125.50 578.5h5.56M900.50 578.5h-5.56M125.50 621.5h5.56M900.50 621.5h-5.56M125.50 658.5h5.56M900.50 658.5h-5.56M125.50 691.5h5.56M900.50 691.5h-5.56M125.50 720.5h5.56M900.50 720.5h-5.56" stroke="#000" stroke-width="0.69" fill="none"/>
<g font-family="DejaVu Sans, Liberation Sans, sans-serif" font-size="16.67" fill="#000">
<text x="124.60" y="738.0" text-anchor="middle" letter-spacing="-0.6">−40</text>
<text x="210.71" y="738.0" text-anchor="middle" letter-spacing="-0.6">−30</text>
<text x="296.82" y="738.0" text-anchor="middle" letter-spacing="-0.6">−20</text>
<text x="382.93" y="738.0" text-anchor="middle" letter-spacing="-0.6">−10</text>
<text x="469.04" y="738.0" text-anchor="middle" letter-spacing="-0.6">0</text>
<text x="555.16" y="738.0" text-anchor="middle" letter-spacing="-0.6">10</text>
<text x="641.27" y="738.0" text-anchor="middle" letter-spacing="-0.6">20</text>
<text x="727.38" y="738.0" text-anchor="middle" letter-spacing="-0.6">30</text>
<text x="813.49" y="738.0" text-anchor="middle" letter-spacing="-0.6">40</text>
<text x="899.60" y="738.0" text-anchor="middle" letter-spacing="-0.6">50</text>
<text x="120.2" y="84.50" text-anchor="end">100</text>
<text x="120.2" y="277.16" text-anchor="end">200</text>
<text x="120.2" y="389.86" text-anchor="end">300</text>
<text x="120.2" y="469.82" text-anchor="end">400</text>
<text x="120.2" y="531.84" text-anchor="end">500</text>
<text x="120.2" y="582.52" text-anchor="end">600</text>
<text x="120.2" y="625.36" text-anchor="end">700</text>
<text x="120.2" y="662.48" text-anchor="end">800</text>
<text x="120.2" y="695.22" text-anchor="end">900</text>
<text x="120.2" y="724.50" text-anchor="end">1000</text>
</g>
<text x="120.9" y="99.7" text-anchor="end" font-family="DejaVu Sans, Liberation Sans, sans-serif" font-size="15" fill="#000">mb</text>
<rect x="302.5" y="90.8" width="421.8" height="20.3" fill="#fff" fill-opacity="0.7" stroke="#000" stroke-opacity="0.7" stroke-width="1.39"/>
<text x="305.0" y="104.8" font-family="DejaVu Sans, Liberation Sans, sans-serif" font-size="15.28" font-weight="bold" font-style="italic" fill="#000" xml:space="preserve">Mem 019  Skew-T at Denver   Valid: 2015062512</text>
</svg>
</body></html>
